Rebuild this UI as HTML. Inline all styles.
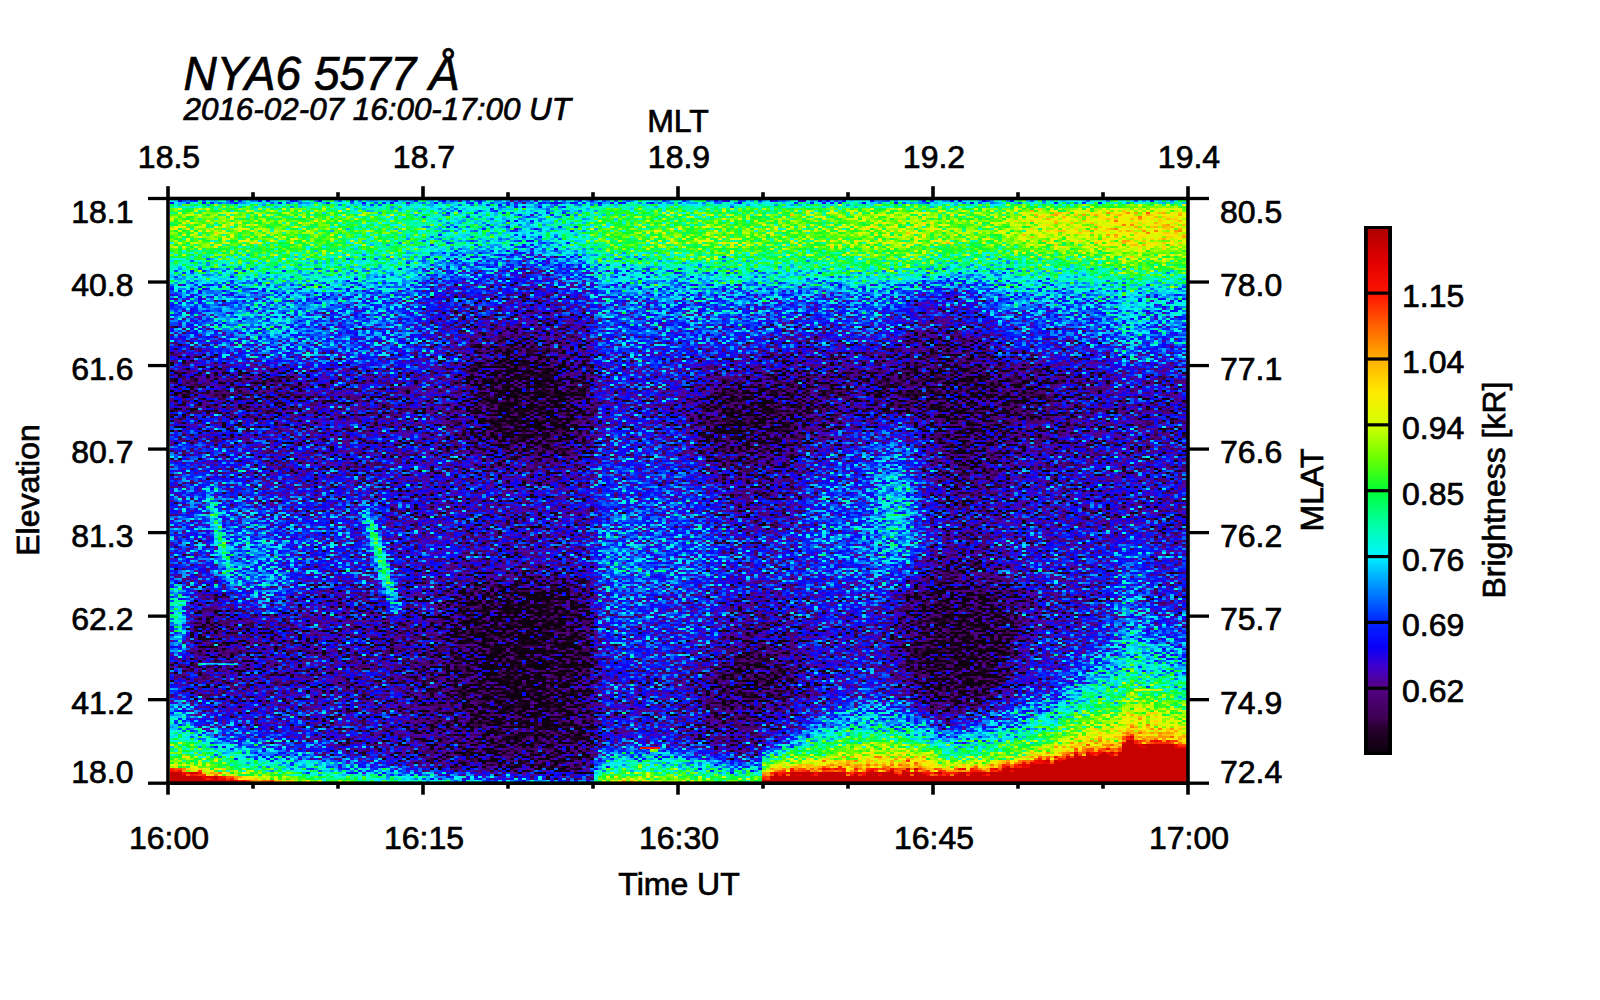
<!DOCTYPE html>
<html><head><meta charset="utf-8"><title>NYA6 5577 keogram</title>
<style>
html,body{margin:0;padding:0;background:#fff;}
body{width:1600px;height:1000px;overflow:hidden;}
svg{display:block;}
text{font-family:"Liberation Sans", sans-serif;fill:#000;stroke:#000;stroke-width:0.7px;}
.it{font-style:italic;}
</style></head><body>
<svg width="1600" height="1000" viewBox="0 0 1600 1000">
<rect width="1600" height="1000" fill="#fff"/>

<defs>
<filter id="cm" filterUnits="userSpaceOnUse" x="170" y="200" width="1017" height="582" color-interpolation-filters="sRGB">
<feTurbulence type="fractalNoise" baseFrequency="0.37 0.43" numOctaves="1" seed="7" result="n"/>
<feColorMatrix in="n" type="matrix" values="1 0 0 0 0  1 0 0 0 0  1 0 0 0 0  0 0 0 0 1" result="ng"/>
<feFlood x="170" y="200" width="1" height="1" flood-color="#000" result="d"/>
<feOffset in="d" dx="0" dy="0" x="170" y="200" width="4" height="2" result="c"/>
<feTile in="c" result="mask"/>
<feComposite in="ng" in2="mask" operator="in" result="sp"/>
<feConvolveMatrix in="sp" order="4 2" kernelMatrix="1 1 1 1 1 1 1 1" divisor="1" targetX="3" targetY="1" edgeMode="none" preserveAlpha="false" result="pix"/>
<feComposite in="SourceGraphic" in2="pix" operator="arithmetic" k1="-0.6564" k2="1.3282" k3="0.7598" k4="-0.3799" result="sum"/>
<feComponentTransfer in="sum">
<feFuncR type="table" tableValues="0.059 0.059 0.059 0.059 0.059 0.059 0.059 0.059 0.059 0.059 0.059 0.059 0.059 0.059 0.059 0.059 0.078 0.098 0.118 0.137 0.181 0.224 0.247 0.263 0.278 0.294 0.31 0.325 0.322 0.3 0.277 0.255 0.201 0.147 0.093 0.039 0.031 0.024 0.016 0.008 0 0 0 0 0 0 0 0 0 0 0 0 0 0 0 0 0 0 0 0 0 0 0 0 0 0 0.069 0.138 0.207 0.276 0.345 0.414 0.478 0.541 0.604 0.667 0.729 0.792 0.838 0.866 0.894 0.922 0.951 0.979 1 1 1 1 1 1 1 1 1 1 1 1 1 1 1 1 1 1 1 0.991 0.972 0.953 0.934 0.915 0.896 0.875 0.843 0.812 0.784 0.784 0.784 0.784 0.784 0.784 0.784 0.784 0.784 0.784 0.784 0.784 0.784 0.784 0.784 0.784 0.784 0.784 0.784 0.784 0.784 0.784 0.784 0.784 0.784 0.784 0.784 0.784 0.784"/>
<feFuncG type="table" tableValues="0 0 0 0 0 0 0 0 0 0 0 0 0 0 0 0 0 0 0 0 0 0 0 0 0 0 0 0 0 0 0 0 0 0 0 0 0.031 0.063 0.094 0.125 0.157 0.22 0.282 0.345 0.408 0.471 0.533 0.598 0.664 0.73 0.796 0.862 0.928 0.964 0.97 0.976 0.983 0.989 0.995 1 1 1 1 1 1 1 1 1 1 1 1 1 1 1 1 1 1 1 0.994 0.981 0.969 0.956 0.944 0.931 0.912 0.875 0.837 0.799 0.762 0.724 0.686 0.639 0.592 0.545 0.498 0.451 0.404 0.355 0.304 0.254 0.204 0.154 0.104 0.072 0.06 0.047 0.035 0.022 0.009 0 0 0 0 0 0 0 0 0 0 0 0 0 0 0 0 0 0 0 0 0 0 0 0 0 0 0 0 0 0 0 0"/>
<feFuncB type="table" tableValues="0.059 0.059 0.059 0.059 0.059 0.059 0.059 0.059 0.059 0.059 0.059 0.059 0.059 0.059 0.059 0.059 0.083 0.108 0.132 0.157 0.227 0.296 0.34 0.374 0.409 0.443 0.478 0.512 0.566 0.639 0.711 0.784 0.833 0.882 0.931 0.98 0.984 0.988 0.992 0.996 1 1 1 1 1 1 1 1 1 1 1 1 1 0.97 0.911 0.851 0.791 0.732 0.672 0.61 0.541 0.472 0.403 0.334 0.265 0.196 0.165 0.133 0.102 0.071 0.039 0.008 0 0 0 0 0 0 0 0 0 0 0 0 0 0 0 0 0 0 0 0 0 0 0 0 0 0 0 0 0 0 0 0 0 0 0 0 0 0 0 0 0 0 0 0 0 0 0 0 0 0 0 0 0 0 0 0 0 0 0 0 0 0 0 0 0 0 0 0 0"/>
<feFuncA type="linear" slope="0" intercept="1"/>
</feComponentTransfer>
</filter>
</defs>
<g filter="url(#cm)" shape-rendering="crispEdges" fill="none" stroke-width="4">
<rect x="170" y="200" width="1017" height="582" fill="#444" stroke="none"/>
<path stroke="rgb(27,27,27)" d="M522 370h8M510 374h32M502 378h44M502 382h48M498 386h56M498 390h56M498 394h60M498 398h60M498 402h60M498 406h60M498 410h60M502 414h56M502 418h52M506 422h48M510 426h40M514 430h28M514 602h28M506 606h44M498 610h56M494 614h64M486 618h76M482 622h80M954 622h20M482 626h84M950 626h28M478 630h88M946 630h36M478 634h88M946 634h36M478 638h88M946 638h36M478 642h92M942 642h40M478 646h92M942 646h40M482 650h88M942 650h40M482 654h88M946 654h36M482 658h88M946 658h32M482 662h88M950 662h28M482 666h88M958 666h12M482 670h88M482 674h88M486 678h80M486 682h80M486 686h80M490 690h76M490 694h72M494 698h68M498 702h60M498 706h56M502 710h52M510 714h36M518 718h20"/>
<path stroke="rgb(31,31,31)" d="M506 362h36M498 366h52M490 370h32M530 370h24M486 374h24M542 374h16M486 378h16M546 378h16M486 382h16M550 382h16M486 386h12M554 386h12M486 390h12M554 390h16M486 394h12M558 394h12M486 398h12M558 398h12M486 402h12M558 402h16M490 406h8M558 406h16M730 406h40M490 410h8M558 410h16M726 410h48M490 414h12M558 414h12M726 414h48M490 418h12M554 418h16M726 418h44M494 422h12M554 422h16M730 422h36M494 426h16M550 426h16M734 426h28M498 430h16M542 430h20M498 434h60M506 438h44M518 442h20M506 594h40M494 598h64M950 598h28M486 602h28M542 602h20M942 602h44M482 606h24M550 606h16M934 606h56M474 610h24M554 610h16M934 610h60M470 614h24M558 614h12M930 614h68M466 618h20M562 618h12M926 618h72M466 622h16M562 622h12M926 622h28M974 622h24M462 626h20M566 626h12M926 626h24M978 626h24M462 630h16M566 630h12M922 630h24M982 630h20M462 634h16M566 634h12M922 634h24M982 634h20M466 638h12M566 638h16M922 638h24M982 638h16M466 642h12M570 642h12M922 642h20M982 642h16M466 646h12M570 646h12M922 646h20M982 646h16M470 650h12M570 650h12M922 650h20M982 650h16M470 654h12M570 654h12M922 654h24M982 654h16M470 658h12M570 658h12M926 658h20M978 658h16M470 662h12M570 662h12M926 662h24M978 662h16M470 666h12M570 666h12M926 666h32M970 666h24M470 670h12M570 670h12M930 670h60M470 674h12M570 674h12M934 674h56M474 678h12M566 678h16M934 678h56M474 682h12M566 682h16M938 682h48M474 686h12M566 686h16M942 686h40M474 690h16M566 690h16M954 690h20M478 694h12M562 694h16M478 698h16M562 698h16M478 702h20M558 702h20M482 706h16M554 706h24M482 710h20M554 710h24M486 714h24M546 714h32M486 718h32M538 718h36M490 722h80M494 726h72M502 730h56M510 734h36"/>
<path stroke="rgb(35,35,35)" d="M506 354h32M494 358h56M490 362h16M542 362h12M486 366h12M550 366h12M482 370h8M554 370h12M478 374h8M558 374h12M478 378h8M562 378h12M478 382h8M566 382h12M478 386h8M566 386h12M478 390h8M570 390h12M478 394h8M570 394h12M734 394h48M478 398h8M570 398h12M718 398h76M482 402h4M574 402h8M714 402h84M482 406h8M574 406h8M710 406h20M770 406h28M482 410h8M574 410h8M710 410h16M774 410h24M482 414h8M570 414h12M710 414h16M774 414h24M482 418h8M570 418h12M710 418h16M770 418h24M486 422h8M570 422h8M714 422h16M766 422h28M486 426h8M566 426h12M714 426h20M762 426h28M486 430h12M562 430h12M714 430h76M490 434h8M558 434h12M718 434h68M494 438h12M550 438h16M722 438h56M502 442h16M538 442h20M510 446h36M502 590h52M942 590h40M490 594h16M546 594h16M934 594h56M478 598h16M558 598h12M926 598h24M978 598h20M470 602h16M562 602h12M922 602h20M986 602h16M466 606h16M566 606h8M922 606h12M990 606h16M462 610h12M570 610h8M922 610h12M994 610h12M458 614h12M570 614h12M918 614h12M998 614h8M458 618h8M574 618h8M918 618h8M998 618h8M454 622h12M574 622h12M918 622h8M998 622h12M454 626h8M578 626h8M914 626h12M1002 626h8M454 630h8M578 630h8M914 630h8M1002 630h8M454 634h8M578 634h8M914 634h8M1002 634h4M454 638h12M582 638h8M914 638h8M998 638h8M458 642h8M582 642h8M914 642h8M998 642h8M458 646h8M582 646h8M914 646h8M998 646h8M458 650h12M582 650h8M914 650h8M998 650h4M462 654h8M582 654h8M914 654h8M998 654h4M462 658h8M582 658h8M914 658h12M994 658h8M462 662h8M582 662h8M918 662h8M994 662h8M462 666h8M582 666h8M742 666h20M918 666h8M994 666h8M462 670h8M582 670h8M738 670h28M918 670h12M990 670h8M462 674h8M582 674h8M734 674h32M922 674h12M990 674h8M462 678h12M582 678h8M730 678h40M922 678h12M990 678h8M466 682h8M582 682h8M730 682h40M926 682h12M986 682h8M466 686h8M582 686h8M726 686h44M926 686h16M982 686h12M466 690h8M582 690h8M726 690h40M930 690h24M974 690h16M466 694h12M578 694h12M730 694h32M934 694h48M466 698h12M578 698h12M938 698h32M470 702h8M578 702h12M470 706h12M578 706h12M470 710h12M578 710h12M474 714h12M578 714h12M474 718h12M574 718h16M478 722h12M570 722h20M478 726h16M566 726h24M482 730h20M558 730h28M482 734h28M546 734h40M486 738h92M494 742h76M502 746h52M522 750h12"/>
<path stroke="rgb(38,38,38)" d="M510 346h28M498 350h48M490 354h16M538 354h16M482 358h12M550 358h12M482 362h8M554 362h12M478 366h8M562 366h12M474 370h8M566 370h12M910 370h72M474 374h4M570 374h16M902 374h96M474 378h4M574 378h12M894 378h128M470 382h8M578 382h12M890 382h140M470 386h8M578 386h12M742 386h52M890 386h140M474 390h4M582 390h8M722 390h84M894 390h140M474 394h4M582 394h8M714 394h20M782 394h28M894 394h140M474 398h4M582 398h8M710 398h8M794 398h24M894 398h140M474 402h8M582 402h8M706 402h8M798 402h24M898 402h136M474 406h8M582 406h8M702 406h8M798 406h24M910 406h124M474 410h8M582 410h8M702 410h8M798 410h20M930 410h100M474 414h8M582 414h8M702 414h8M798 414h16M938 414h80M478 418h4M582 418h8M706 418h4M794 418h16M946 418h56M478 422h8M578 422h12M706 422h8M794 422h12M950 422h44M478 426h8M578 426h8M706 426h8M790 426h12M950 426h40M478 430h8M574 430h12M706 430h8M790 430h12M954 430h32M482 434h8M570 434h16M710 434h8M786 434h12M958 434h24M486 438h8M566 438h12M710 438h12M778 438h16M966 438h8M490 442h12M558 442h16M714 442h72M494 446h16M546 446h16M722 446h56M506 450h44M742 450h8M522 582h12M942 582h40M498 586h56M934 586h56M482 590h20M554 590h12M926 590h16M982 590h16M470 594h20M562 594h12M922 594h12M990 594h12M462 598h16M570 598h8M918 598h8M998 598h12M458 602h12M574 602h8M918 602h4M1002 602h8M454 606h12M574 606h12M914 606h8M1006 606h8M454 610h8M578 610h8M914 610h8M1006 610h8M450 614h8M582 614h8M914 614h4M1006 614h8M450 618h8M582 618h8M910 618h8M1006 618h8M446 622h8M586 622h4M910 622h8M1010 622h4M446 626h8M586 626h4M910 626h4M1010 626h4M210 630h8M446 630h8M586 630h4M910 630h4M1010 630h4M446 634h8M586 634h4M910 634h4M1006 634h8M446 638h8M910 638h4M1006 638h4M446 642h12M910 642h4M1006 642h4M450 646h8M910 646h4M1006 646h4M450 650h8M910 650h4M1002 650h4M450 654h12M746 654h16M910 654h4M1002 654h4M450 658h12M738 658h32M910 658h4M1002 658h4M450 662h12M734 662h40M910 662h8M1002 662h4M450 666h12M730 666h12M762 666h16M910 666h8M1002 666h4M450 670h12M726 670h12M766 670h12M914 670h4M998 670h8M454 674h8M722 674h12M766 674h12M914 674h8M998 674h4M454 678h8M722 678h8M770 678h12M914 678h8M998 678h4M454 682h12M718 682h12M770 682h8M918 682h8M994 682h8M454 686h12M718 686h8M770 686h8M918 686h8M994 686h4M454 690h12M714 690h12M766 690h12M922 690h8M990 690h4M454 694h12M714 694h16M762 694h12M922 694h12M982 694h8M458 698h8M718 698h52M930 698h8M970 698h12M458 702h12M722 702h40M934 702h36M462 706h8M590 706h4M730 706h24M938 706h16M462 710h8M590 710h4M462 714h12M590 714h4M466 718h8M590 718h4M466 722h12M466 726h12M470 730h12M586 730h4M470 734h12M586 734h4M474 738h12M578 738h12M474 742h20M570 742h20M478 746h24M554 746h36M478 750h44M534 750h56M482 754h104M486 758h100M490 762h88M510 766h44"/>
<path stroke="rgb(42,42,42)" d="M514 338h24M498 342h48M490 346h20M538 346h16M482 350h16M546 350h12M478 354h12M554 354h12M922 354h44M478 358h4M562 358h12M910 358h72M474 362h8M566 362h20M902 362h84M470 366h8M574 366h16M894 366h104M470 370h4M578 370h12M890 370h20M982 370h28M470 374h4M586 374h4M882 374h20M998 374h32M466 378h8M586 378h4M758 378h52M874 378h20M1022 378h20M466 382h4M726 382h100M874 382h16M1030 382h16M466 386h4M714 386h28M794 386h40M874 386h16M1030 386h16M466 390h8M590 390h4M710 390h12M806 390h32M874 390h20M1034 390h12M466 394h8M590 394h4M706 394h8M810 394h32M874 394h20M1034 394h12M466 398h8M590 398h4M702 398h8M818 398h24M878 398h16M1034 398h12M466 402h8M590 402h4M698 402h8M822 402h24M878 402h20M1034 402h12M466 406h8M590 406h4M698 406h4M822 406h20M886 406h24M1034 406h12M466 410h8M590 410h4M698 410h4M818 410h20M902 410h28M1030 410h16M466 414h8M590 414h4M698 414h4M814 414h16M922 414h16M1018 414h28M470 418h8M590 418h4M698 418h8M810 418h12M930 418h16M1002 418h40M470 422h8M698 422h8M806 422h12M934 422h16M994 422h44M470 426h8M586 426h4M702 426h4M802 426h12M938 426h12M990 426h36M470 430h8M586 430h4M702 430h4M802 430h8M942 430h12M986 430h28M470 434h12M586 434h4M702 434h8M798 434h8M942 434h16M982 434h24M474 438h12M578 438h12M706 438h4M794 438h8M942 438h24M974 438h28M478 442h12M574 442h12M706 442h8M786 442h12M946 442h56M482 446h12M562 446h20M710 446h12M778 446h16M946 446h52M490 450h16M550 450h20M714 450h28M750 450h36M946 450h52M502 454h52M722 454h56M946 454h48M734 458h28M950 458h44M950 462h40M954 466h28M950 570h20M942 574h40M518 578h20M934 578h56M494 582h28M534 582h24M930 582h12M982 582h12M478 586h20M554 586h16M926 586h8M990 586h12M466 590h16M566 590h12M922 590h4M998 590h8M458 594h12M574 594h12M918 594h4M1002 594h8M454 598h8M578 598h8M914 598h4M1010 598h4M450 602h8M582 602h8M910 602h8M1010 602h8M446 606h8M586 606h4M910 606h4M1014 606h4M446 610h8M586 610h4M910 610h4M1014 610h4M442 614h8M906 614h8M1014 614h4M442 618h8M906 618h4M1014 618h4M202 622h24M438 622h8M906 622h4M1014 622h8M198 626h36M438 626h8M590 626h4M906 626h4M1014 626h8M198 630h12M218 630h20M438 630h8M590 630h4M906 630h4M1014 630h4M198 634h40M438 634h8M590 634h4M906 634h4M1014 634h4M198 638h36M438 638h8M590 638h4M902 638h8M1010 638h8M202 642h28M434 642h12M590 642h4M902 642h8M1010 642h4M206 646h20M434 646h16M590 646h4M742 646h28M902 646h8M1010 646h4M434 650h16M590 650h4M738 650h40M902 650h8M1006 650h8M434 654h16M590 654h4M734 654h12M762 654h20M906 654h4M1006 654h4M434 658h16M590 658h4M730 658h8M770 658h16M906 658h4M1006 658h4M430 662h20M590 662h4M726 662h8M774 662h12M906 662h4M1006 662h4M430 666h20M590 666h4M722 666h8M778 666h8M906 666h4M1006 666h4M430 670h20M590 670h4M718 670h8M778 670h12M906 670h8M1006 670h4M430 674h24M590 674h4M718 674h4M778 674h12M910 674h4M1002 674h4M426 678h28M590 678h4M714 678h8M782 678h8M910 678h4M1002 678h4M426 682h28M590 682h4M710 682h8M778 682h12M910 682h8M1002 682h4M422 686h32M590 686h4M710 686h8M778 686h8M914 686h4M998 686h4M422 690h32M590 690h4M710 690h4M778 690h8M914 690h8M994 690h4M422 694h32M590 694h4M706 694h8M774 694h8M918 694h4M990 694h4M426 698h32M590 698h4M710 698h8M770 698h8M922 698h8M982 698h8M430 702h28M590 702h4M710 702h12M762 702h12M930 702h4M970 702h8M442 706h20M714 706h16M754 706h12M934 706h4M954 706h12M446 710h16M718 710h44M938 710h12M450 714h12M722 714h32M454 718h12M730 718h16M454 722h12M590 722h4M454 726h12M590 726h4M454 730h16M590 730h4M458 734h12M590 734h4M458 738h16M590 738h4M458 742h16M590 742h4M458 746h20M590 746h4M462 750h16M462 754h20M586 754h4M462 758h24M586 758h4M466 762h24M578 762h12M478 766h32M554 766h36M554 770h32"/>
<path stroke="rgb(46,46,46)" d="M514 330h28M502 334h48M490 338h24M538 338h16M482 342h16M546 342h16M926 342h40M478 346h12M554 346h16M914 346h64M474 350h8M558 350h24M906 350h76M474 354h4M566 354h20M898 354h24M966 354h24M470 358h8M574 358h16M894 358h16M982 358h12M470 362h4M586 362h4M890 362h12M986 362h16M466 366h4M882 366h12M998 366h16M466 370h4M590 370h4M770 370h44M874 370h16M1010 370h24M462 374h8M590 374h4M750 374h132M1030 374h16M170 378h48M462 378h4M590 378h4M718 378h40M810 378h64M1042 378h16M170 382h108M462 382h4M590 382h4M710 382h16M826 382h48M1046 382h16M170 386h112M458 386h8M590 386h4M706 386h8M834 386h40M1046 386h12M170 390h112M458 390h8M702 390h8M838 390h36M1046 390h12M170 394h108M458 394h8M698 394h8M842 394h32M1046 394h12M170 398h104M458 398h8M694 398h8M842 398h36M1046 398h12M458 402h8M694 402h4M846 402h32M1046 402h12M458 406h8M690 406h8M842 406h44M1046 406h12M458 410h8M690 410h8M838 410h16M878 410h24M1046 410h12M458 414h8M690 414h8M830 414h16M902 414h20M1046 414h12M458 418h12M694 418h4M822 418h16M918 418h12M1042 418h16M458 422h12M590 422h4M694 422h4M818 422h12M926 422h8M1038 422h20M462 426h8M590 426h4M694 426h8M814 426h12M930 426h8M1026 426h36M462 430h8M590 430h4M694 430h8M810 430h8M934 430h8M1014 430h48M462 434h8M590 434h4M698 434h4M806 434h8M934 434h8M1006 434h52M466 438h8M590 438h4M698 438h8M802 438h8M938 438h4M1002 438h28M466 442h12M586 442h4M702 442h4M798 442h8M938 442h8M1002 442h16M470 446h12M582 446h8M706 446h4M794 446h8M938 446h8M998 446h16M474 450h16M570 450h20M706 450h8M786 450h12M938 450h8M998 450h12M482 454h20M554 454h28M710 454h12M778 454h16M938 454h8M994 454h16M494 458h68M714 458h20M762 458h24M938 458h12M994 458h12M518 462h20M718 462h64M938 462h12M990 462h16M730 466h48M942 466h12M982 466h20M738 470h32M942 470h56M942 474h52M946 478h44M950 482h36M954 486h24M954 558h16M946 562h36M938 566h48M934 570h16M970 570h20M514 574h28M930 574h12M982 574h12M490 578h28M538 578h24M926 578h8M990 578h8M474 582h20M558 582h16M922 582h8M994 582h8M462 586h16M570 586h12M918 586h8M1002 586h8M454 590h12M578 590h8M914 590h8M1006 590h8M446 594h12M586 594h4M910 594h8M1010 594h8M442 598h12M586 598h4M910 598h4M1014 598h8M438 602h12M906 602h4M1018 602h4M438 606h8M906 606h4M1018 606h8M434 610h12M590 610h4M902 610h8M1018 610h8M206 614h16M434 614h8M590 614h4M902 614h4M1018 614h8M198 618h36M430 618h12M590 618h4M902 618h4M1018 618h8M194 622h8M226 622h16M426 622h12M590 622h4M902 622h4M1022 622h4M194 626h4M234 626h16M422 626h16M902 626h4M1022 626h4M194 630h4M238 630h16M422 630h16M898 630h8M1018 630h8M194 634h4M238 634h16M418 634h20M750 634h12M898 634h8M1018 634h4M194 638h4M234 638h20M418 638h20M738 638h40M898 638h4M1018 638h4M194 642h8M230 642h20M418 642h16M734 642h48M898 642h4M1014 642h4M194 646h12M226 646h20M418 646h16M730 646h12M770 646h16M898 646h4M1014 646h4M198 650h44M418 650h16M726 650h12M778 650h12M898 650h4M1014 650h4M202 654h32M418 654h16M726 654h8M782 654h8M898 654h8M1010 654h4M206 658h24M414 658h20M722 658h8M786 658h8M902 658h4M1010 658h4M214 662h8M414 662h16M718 662h8M786 662h8M902 662h4M1010 662h4M414 666h16M714 666h8M786 666h8M902 666h4M1010 666h4M410 670h20M714 670h4M790 670h4M902 670h4M1010 670h4M410 674h20M710 674h8M790 674h8M906 674h4M1006 674h4M406 678h20M706 678h8M790 678h8M906 678h4M1006 678h4M406 682h20M706 682h4M790 682h8M906 682h4M1006 682h4M406 686h16M702 686h8M786 686h12M910 686h4M1002 686h4M406 690h16M702 690h8M786 690h8M910 690h4M998 690h4M406 694h16M702 694h4M782 694h12M914 694h4M994 694h4M406 698h20M702 698h8M778 698h8M918 698h4M990 698h4M406 702h24M702 702h8M774 702h8M922 702h8M978 702h8M406 706h36M706 706h8M766 706h12M930 706h4M966 706h12M410 710h36M706 710h12M762 710h8M934 710h4M950 710h12M410 714h40M710 714h12M754 714h12M938 714h8M414 718h40M710 718h20M746 718h16M414 722h40M714 722h44M414 726h40M718 726h36M414 730h40M726 730h20M414 734h44M414 738h44M414 742h44M414 746h44M414 750h48M590 750h4M414 754h48M590 754h4M418 758h44M590 758h4M430 762h36M590 762h4M458 766h20M590 766h4M490 770h64M586 770h8"/>
<path stroke="rgb(49,49,49)" d="M526 318h8M514 322h32M506 326h48M494 330h20M542 330h20M934 330h24M482 334h20M550 334h20M922 334h48M478 338h12M554 338h32M914 338h64M474 342h8M562 342h24M906 342h20M966 342h16M470 346h8M570 346h20M898 346h16M978 346h12M470 350h4M582 350h8M894 350h12M982 350h12M466 354h8M586 354h4M890 354h8M990 354h8M466 358h4M590 358h4M882 358h12M994 358h12M462 362h8M590 362h4M778 362h36M878 362h12M1002 362h12M462 366h4M590 366h4M762 366h92M858 366h24M1014 366h20M170 370h36M458 370h8M742 370h28M814 370h60M1034 370h20M170 374h84M458 374h4M714 374h36M1046 374h36M218 378h76M454 378h8M706 378h12M1058 378h36M278 382h20M454 382h8M702 382h8M1062 382h32M282 386h20M450 386h8M698 386h8M1058 386h36M282 390h20M450 390h8M694 390h8M1058 390h32M278 394h28M446 394h12M594 394h4M690 394h8M1058 394h28M274 398h32M442 398h16M594 398h4M690 398h4M1058 398h16M170 402h140M442 402h16M594 402h4M686 402h8M1058 402h12M170 406h144M438 406h20M594 406h4M686 406h4M1058 406h12M170 410h136M438 410h20M594 410h4M686 410h4M854 410h24M1058 410h12M442 414h16M594 414h4M686 414h4M846 414h56M1058 414h16M446 418h12M594 418h4M686 418h8M838 418h16M902 418h16M1058 418h20M446 422h12M686 422h8M830 422h12M918 422h8M1058 422h20M450 426h12M690 426h4M826 426h8M926 426h4M1062 426h20M450 430h12M690 430h4M818 430h12M926 430h8M1062 430h20M454 434h8M690 434h8M814 434h12M930 434h4M1058 434h24M454 438h12M694 438h4M810 438h12M930 438h8M1030 438h48M458 442h8M590 442h4M698 442h4M806 442h8M930 442h8M1018 442h56M458 446h12M590 446h4M698 446h8M802 446h8M930 446h8M1014 446h44M462 450h12M590 450h4M702 450h4M798 450h8M930 450h8M1010 450h16M466 454h16M582 454h8M702 454h8M794 454h8M934 454h4M1010 454h12M470 458h24M562 458h28M706 458h8M786 458h12M934 458h4M1006 458h12M478 462h40M538 462h48M710 462h8M782 462h12M934 462h4M1006 462h8M490 466h76M714 466h16M778 466h12M934 466h8M1002 466h12M510 470h36M718 470h20M770 470h20M934 470h8M998 470h12M726 474h60M934 474h8M994 474h12M730 478h56M938 478h8M990 478h12M734 482h48M938 482h12M986 482h16M738 486h44M942 486h12M978 486h20M738 490h40M942 490h52M742 494h36M942 494h52M746 498h28M946 498h44M758 502h4M946 502h44M950 506h36M950 510h32M958 514h20M962 534h8M958 538h16M954 542h24M950 546h32M946 550h40M942 554h48M938 558h16M970 558h20M934 562h12M982 562h12M518 566h20M930 566h8M986 566h8M498 570h56M926 570h8M990 570h8M482 574h32M542 574h28M926 574h4M994 574h8M466 578h24M562 578h20M922 578h4M998 578h8M454 582h20M574 582h12M918 582h4M1002 582h8M446 586h16M582 586h8M914 586h4M1010 586h8M442 590h12M586 590h4M910 590h4M1014 590h8M434 594h12M906 594h4M1018 594h8M430 598h12M590 598h4M906 598h4M1022 598h8M422 602h16M590 602h4M902 602h4M1022 602h8M414 606h24M590 606h4M902 606h4M1026 606h4M202 610h24M410 610h24M898 610h4M1026 610h4M194 614h12M222 614h12M410 614h24M898 614h4M1026 614h4M194 618h4M234 618h8M406 618h24M898 618h4M1026 618h4M242 622h12M398 622h28M746 622h28M898 622h4M1026 622h4M190 626h4M250 626h24M382 626h40M738 626h44M894 626h8M1026 626h4M190 630h4M254 630h36M378 630h44M734 630h52M894 630h4M1026 630h4M190 634h4M254 634h40M378 634h40M730 634h20M762 634h28M894 634h4M1022 634h8M190 638h4M254 638h40M378 638h40M730 638h8M778 638h16M894 638h4M1022 638h4M250 642h44M378 642h40M726 642h8M782 642h12M894 642h4M1018 642h8M246 646h40M382 646h36M722 646h8M786 646h12M894 646h4M1018 646h4M194 650h4M242 650h36M386 650h32M722 650h4M790 650h8M894 650h4M1018 650h4M194 654h8M234 654h32M390 654h28M594 654h4M718 654h8M790 654h8M894 654h4M1014 654h4M194 658h12M230 658h28M390 658h24M594 658h4M714 658h8M794 658h8M894 658h8M1014 658h4M190 662h24M222 662h32M390 662h24M594 662h4M714 662h4M794 662h8M898 662h4M1014 662h4M194 666h56M390 666h24M594 666h4M710 666h4M794 666h8M898 666h4M1014 666h4M194 670h52M390 670h20M594 670h4M706 670h8M794 670h8M898 670h4M1014 670h4M198 674h48M390 674h20M594 674h4M702 674h8M798 674h8M898 674h8M1010 674h4M198 678h44M390 678h16M594 678h4M702 678h4M798 678h8M902 678h4M1010 678h4M202 682h36M394 682h12M594 682h4M698 682h8M798 682h8M902 682h4M1010 682h4M202 686h32M394 686h12M594 686h4M698 686h4M798 686h8M902 686h8M1006 686h4M394 690h12M594 690h4M694 690h8M794 690h12M906 690h4M1002 690h4M394 694h12M594 694h4M694 694h8M794 694h12M910 694h4M998 694h4M394 698h12M594 698h4M694 698h8M786 698h12M914 698h4M994 698h4M394 702h12M594 702h4M698 702h4M782 702h12M918 702h4M986 702h8M394 706h12M594 706h4M698 706h8M778 706h8M926 706h4M978 706h8M394 710h16M594 710h4M698 710h8M770 710h12M930 710h4M962 710h12M394 714h16M594 714h4M702 714h8M766 714h8M946 714h12M398 718h16M594 718h4M702 718h8M762 718h8M398 722h16M594 722h4M702 722h12M758 722h8M398 726h16M594 726h4M706 726h12M754 726h12M398 730h16M594 730h4M706 730h20M746 730h16M398 734h16M594 734h4M710 734h52M398 738h16M594 738h4M714 738h44M398 742h16M718 742h36M398 746h16M730 746h16M398 750h16M398 754h16M402 758h16M414 762h16M442 766h16M478 770h12M574 774h16"/>
<path stroke="rgb(53,53,53)" d="M526 306h8M514 310h28M510 314h40M502 318h24M534 318h24M494 322h20M546 322h24M926 322h40M482 326h24M554 326h32M918 326h56M470 330h24M562 330h28M914 330h20M958 330h20M466 334h16M570 334h20M910 334h12M970 334h12M466 338h12M586 338h4M902 338h12M978 338h8M462 342h12M586 342h4M898 342h8M982 342h12M462 346h8M590 346h4M890 346h8M990 346h8M462 350h8M590 350h4M886 350h8M994 350h8M458 354h8M590 354h4M786 354h28M878 354h12M998 354h8M458 358h8M770 358h76M870 358h12M1006 358h8M170 362h24M454 362h8M758 362h20M814 362h64M1014 362h24M170 366h44M450 366h12M734 366h28M854 366h4M1034 366h36M206 370h32M450 370h8M710 370h32M1054 370h40M254 374h44M446 374h12M594 374h4M702 374h12M1082 374h20M294 378h16M438 378h16M594 378h4M698 378h8M1094 378h16M298 382h20M430 382h24M594 382h4M694 382h8M1094 382h16M302 386h24M414 386h36M594 386h4M690 386h8M1094 386h20M302 390h148M594 390h4M686 390h8M1090 390h24M306 394h140M682 394h8M1086 394h32M1154 394h36M306 398h136M678 398h12M1074 398h48M1142 398h48M310 402h132M674 402h12M1070 402h56M1134 402h56M314 406h124M670 406h16M1070 406h120M306 410h132M674 410h12M1070 410h120M170 414h272M674 414h12M1074 414h116M170 418h276M678 418h8M854 418h48M1078 418h112M286 422h160M594 422h4M678 422h8M842 422h24M906 422h12M1078 422h112M310 426h140M594 426h4M682 426h8M834 426h16M918 426h8M1082 426h108M322 430h128M594 430h4M682 430h8M830 430h12M922 430h4M1082 430h36M1142 430h48M422 434h32M594 434h4M686 434h4M826 434h8M926 434h4M1082 434h28M434 438h20M594 438h4M686 438h8M822 438h8M926 438h4M1078 438h24M438 442h20M690 442h8M814 442h12M926 442h4M1074 442h24M442 446h16M694 446h4M810 446h12M926 446h4M1058 446h36M442 450h20M694 450h8M806 450h8M926 450h4M1026 450h60M446 454h20M590 454h4M698 454h4M802 454h8M926 454h8M1022 454h56M450 458h20M590 458h4M698 458h8M798 458h8M926 458h8M1018 458h20M454 462h24M586 462h4M702 462h8M794 462h8M930 462h4M1014 462h16M458 466h32M566 466h24M706 466h8M790 466h8M930 466h4M1014 466h12M458 470h52M546 470h44M710 470h8M790 470h8M930 470h4M1010 470h12M462 474h128M714 474h12M786 474h8M930 474h4M1006 474h12M470 478h116M718 478h12M786 478h8M930 478h8M1002 478h16M494 482h68M722 482h12M782 482h12M934 482h4M1002 482h12M726 486h12M782 486h8M934 486h8M998 486h12M726 490h12M778 490h12M934 490h8M994 490h12M730 494h12M778 494h12M934 494h8M994 494h12M730 498h16M774 498h12M938 498h8M990 498h16M734 502h24M762 502h24M938 502h8M990 502h16M734 506h52M938 506h12M986 506h20M734 510h48M938 510h12M982 510h24M1158 510h32M738 514h44M938 514h20M978 514h28M1150 514h40M742 518h36M942 518h64M1154 518h36M942 522h60M942 526h60M942 530h56M942 534h20M970 534h28M938 538h20M974 538h24M938 542h16M978 542h16M938 546h12M982 546h16M934 550h12M986 550h12M518 554h20M934 554h8M990 554h8M498 558h60M930 558h8M990 558h12M486 562h84M926 562h8M994 562h8M474 566h44M538 566h40M926 566h4M994 566h8M466 570h32M554 570h32M922 570h4M998 570h8M458 574h24M570 574h16M918 574h8M1002 574h8M450 578h16M582 578h8M918 578h4M1006 578h8M442 582h12M586 582h4M914 582h4M1010 582h12M430 586h16M590 586h4M910 586h4M1018 586h8M414 590h28M590 590h4M906 590h4M1022 590h8M406 594h28M590 594h4M902 594h4M1026 594h8M406 598h24M902 598h4M1030 598h8M206 602h12M338 602h40M406 602h16M750 602h20M898 602h4M1030 602h12M198 606h32M314 606h68M406 606h8M742 606h40M898 606h4M1030 606h12M194 610h8M226 610h12M310 610h76M406 610h4M738 610h48M894 610h4M1030 610h12M234 614h12M302 614h84M406 614h4M734 614h56M894 614h4M1030 614h12M190 618h4M242 618h16M294 618h96M402 618h4M730 618h64M894 618h4M1030 618h12M190 622h4M254 622h144M594 622h4M730 622h16M774 622h20M890 622h8M1030 622h12M274 626h108M594 626h4M726 626h12M782 626h16M890 626h4M1030 626h12M290 630h88M594 630h4M726 630h8M786 630h12M890 630h4M1030 630h8M294 634h84M594 634h4M722 634h8M790 634h12M890 634h4M1030 634h8M294 638h84M594 638h4M722 638h8M794 638h8M890 638h4M1026 638h8M190 642h4M294 642h84M594 642h4M718 642h8M794 642h8M890 642h4M1026 642h4M190 646h4M286 646h96M594 646h4M718 646h4M798 646h8M890 646h4M1022 646h8M190 650h4M278 650h108M594 650h4M714 650h8M798 650h8M890 650h4M1022 650h4M190 654h4M266 654h124M714 654h4M798 654h8M890 654h4M1018 654h8M190 658h4M258 658h132M710 658h4M802 658h4M890 658h4M1018 658h4M174 662h16M254 662h136M706 662h8M802 662h8M890 662h8M1018 662h4M178 666h16M250 666h140M702 666h8M802 666h8M894 666h4M1018 666h4M178 670h16M246 670h144M698 670h8M802 670h12M894 670h4M1018 670h4M182 674h16M246 674h144M698 674h4M806 674h8M894 674h4M1014 674h8M186 678h12M242 678h148M694 678h8M806 678h12M894 678h8M1014 678h4M186 682h16M238 682h156M690 682h8M806 682h12M898 682h4M1014 682h4M190 686h12M234 686h160M690 686h8M806 686h12M898 686h4M1010 686h4M190 690h204M690 690h4M806 690h12M902 690h4M1006 690h8M194 694h68M358 694h36M690 694h4M806 694h12M906 694h4M1002 694h8M202 698h44M366 698h28M690 698h4M798 698h16M910 698h4M998 698h4M366 702h28M690 702h8M794 702h12M914 702h4M994 702h4M366 706h28M690 706h8M786 706h12M922 706h4M986 706h4M366 710h28M690 710h8M782 710h8M926 710h4M974 710h8M366 714h28M694 714h8M774 714h12M934 714h4M958 714h8M366 718h32M694 718h8M770 718h8M938 718h12M366 722h32M694 722h8M766 722h12M366 726h32M694 726h12M766 726h8M366 730h32M698 730h8M762 730h12M366 734h32M698 734h12M762 734h8M366 738h32M702 738h12M758 738h8M366 742h32M594 742h4M706 742h12M754 742h8M370 746h28M594 746h4M714 746h16M746 746h16M374 750h24M726 750h36M382 754h16M390 758h12M406 762h8M422 766h20M462 770h16M522 774h52M590 774h4"/>
<path stroke="rgb(56,56,56)" d="M526 294h8M514 298h28M510 302h40M502 306h24M534 306h24M498 310h16M542 310h24M486 314h24M550 314h28M926 314h40M454 318h48M558 318h28M918 318h56M446 322h48M570 322h20M914 322h12M966 322h12M446 326h36M586 326h4M910 326h8M974 326h8M446 330h24M590 330h4M906 330h8M978 330h8M446 334h20M590 334h4M898 334h12M982 334h8M450 338h16M590 338h4M894 338h8M986 338h8M450 342h12M590 342h4M886 342h12M994 342h4M450 346h12M786 346h36M882 346h8M998 346h4M450 350h12M774 350h72M874 350h12M1002 350h8M450 354h8M766 354h20M814 354h64M1006 354h12M170 358h36M446 358h12M594 358h4M754 358h16M846 358h24M1014 358h28M194 362h20M442 362h12M594 362h4M722 362h36M1038 362h48M214 366h16M434 366h16M594 366h4M706 366h28M1070 366h32M238 370h60M426 370h24M594 370h4M698 370h12M1094 370h16M298 374h20M410 374h36M690 374h12M1102 374h12M310 378h128M686 378h12M1110 378h8M1146 378h44M318 382h112M682 382h12M1110 382h12M1138 382h52M326 386h88M678 386h12M1114 386h76M598 390h4M670 390h16M1114 390h76M598 394h4M662 394h20M1118 394h36M598 398h4M650 398h28M1122 398h20M598 402h4M634 402h40M1126 402h8M598 406h8M626 406h44M598 410h8M630 410h44M598 414h4M638 414h36M598 418h4M650 418h28M170 422h116M598 422h4M658 422h20M866 422h40M170 426h140M598 426h4M666 426h16M850 426h24M906 426h12M274 430h48M598 430h4M670 430h12M842 430h16M914 430h8M1118 430h24M290 434h132M674 434h12M834 434h16M918 434h8M1110 434h80M290 438h144M678 438h8M830 438h12M922 438h4M1102 438h88M286 442h152M594 442h4M682 442h8M826 442h12M922 442h4M1098 442h92M282 446h160M594 446h4M686 446h8M822 446h12M922 446h4M1094 446h96M274 450h168M594 450h4M690 450h4M814 450h12M922 450h4M1086 450h104M270 454h176M690 454h8M810 454h12M922 454h4M1078 454h112M266 458h184M694 458h4M806 458h8M922 458h4M1038 458h152M266 462h188M590 462h4M694 462h8M802 462h8M926 462h4M1030 462h160M270 466h188M590 466h4M698 466h8M798 466h8M926 466h4M1026 466h164M274 470h184M590 470h4M702 470h8M798 470h8M926 470h4M1022 470h168M286 474h176M590 474h4M706 474h8M794 474h8M926 474h4M1018 474h172M386 478h84M586 478h8M710 478h8M794 478h8M926 478h4M1018 478h172M394 482h100M562 482h28M714 482h8M794 482h4M930 482h4M1014 482h104M1146 482h44M398 486h192M718 486h8M790 486h8M930 486h4M1010 486h104M1150 486h40M398 490h192M722 490h4M790 490h8M930 490h4M1006 490h108M1150 490h40M398 494h192M722 494h8M790 494h8M930 494h4M1006 494h112M1146 494h44M394 498h196M722 498h8M786 498h8M930 498h8M1006 498h120M1138 498h52M390 502h200M726 502h8M786 502h8M930 502h8M1006 502h184M390 506h200M726 506h8M786 506h8M934 506h4M1006 506h184M386 510h204M726 510h8M782 510h8M934 510h4M1006 510h152M386 514h204M726 514h12M782 514h8M934 514h4M1006 514h144M386 518h204M730 518h12M778 518h12M934 518h8M1006 518h148M386 522h204M730 522h56M934 522h8M1002 522h124M1138 522h52M390 526h196M734 526h48M934 526h8M1002 526h116M1146 526h44M402 530h184M742 530h36M934 530h8M998 530h20M1098 530h8M1154 530h36M446 534h140M934 534h8M998 534h16M454 538h132M934 538h4M998 538h12M462 542h124M934 542h4M994 542h16M462 546h124M930 546h8M998 546h12M458 550h128M930 550h4M998 550h12M454 554h64M538 554h48M926 554h8M998 554h12M450 558h48M558 558h32M926 558h4M1002 558h8M446 562h40M570 562h20M922 562h4M1002 562h8M446 566h28M578 566h12M922 566h4M1002 566h12M442 570h24M586 570h4M918 570h4M1006 570h8M434 574h24M586 574h4M1010 574h8M418 578h32M590 578h4M914 578h4M1014 578h12M402 582h40M590 582h4M910 582h4M1022 582h12M402 586h28M906 586h4M1026 586h16M322 590h56M402 590h12M746 590h28M902 590h4M1030 590h24M310 594h68M402 594h4M738 594h48M898 594h4M1034 594h44M198 598h24M306 598h76M402 598h4M594 598h4M730 598h64M894 598h8M1038 598h48M194 602h12M218 602h12M302 602h36M378 602h4M402 602h4M594 602h4M726 602h24M770 602h28M894 602h4M1042 602h44M194 606h4M230 606h8M298 606h16M382 606h4M402 606h4M594 606h4M726 606h16M782 606h16M890 606h8M1042 606h36M190 610h4M238 610h8M294 610h16M402 610h4M594 610h4M726 610h12M786 610h16M890 610h4M1042 610h32M190 614h4M246 614h12M282 614h20M386 614h4M402 614h4M594 614h4M722 614h12M790 614h16M886 614h8M1042 614h28M258 618h36M390 618h4M594 618h4M722 618h8M794 618h12M886 618h8M1042 618h24M722 622h8M794 622h16M882 622h8M1042 622h20M718 626h8M798 626h16M882 626h8M1042 626h16M718 630h8M798 630h16M882 630h8M1038 630h20M718 634h4M802 634h12M882 634h8M1038 634h12M714 638h8M802 638h12M882 638h8M1034 638h12M714 642h4M802 642h12M882 642h8M1030 642h12M710 646h8M806 646h8M882 646h8M1030 646h8M710 650h4M806 650h8M882 650h8M1026 650h8M706 654h8M806 654h12M882 654h8M1026 654h4M186 658h4M702 658h8M806 658h12M882 658h8M1022 658h8M170 662h4M698 662h8M810 662h12M886 662h4M1022 662h8M170 666h8M598 666h4M694 666h8M810 666h12M886 666h8M1022 666h8M170 670h8M598 670h4M690 670h8M814 670h12M886 670h8M1022 670h4M170 674h12M598 674h4M686 674h12M814 674h12M886 674h8M1022 674h4M170 678h16M598 678h4M686 678h8M818 678h12M890 678h4M1018 678h8M174 682h12M598 682h4M682 682h8M818 682h12M890 682h8M1018 682h4M182 686h8M598 686h4M678 686h12M818 686h12M894 686h4M1014 686h8M186 690h4M598 690h4M678 690h12M818 690h12M894 690h8M1014 690h4M190 694h4M262 694h96M598 694h4M678 694h12M818 694h8M902 694h4M1010 694h4M194 698h8M246 698h120M598 698h4M678 698h12M814 698h8M906 698h4M1002 698h8M198 702h168M598 702h4M678 702h12M806 702h12M910 702h4M998 702h4M214 706h152M598 706h4M678 706h12M798 706h16M918 706h4M990 706h4M274 710h92M598 710h4M678 710h12M790 710h16M922 710h4M982 710h8M314 714h52M598 714h4M682 714h12M786 714h12M930 714h4M966 714h12M322 718h44M598 718h4M682 718h12M778 718h12M950 718h12M322 722h44M598 722h4M682 722h12M778 722h8M942 722h4M322 726h44M598 726h4M682 726h12M774 726h8M326 730h40M598 730h4M682 730h16M774 730h8M326 734h40M598 734h4M686 734h12M770 734h8M326 738h40M598 738h4M690 738h12M766 738h8M330 742h36M694 742h12M762 742h4M334 746h36M702 746h12M346 750h28M594 750h4M714 750h12M362 754h20M734 754h28M378 758h12M394 762h12M414 766h8M450 770h12M494 774h28"/>
<path stroke="rgb(60,60,60)" d="M518 286h24M510 290h36M506 294h20M534 294h20M494 298h20M542 298h20M482 302h28M550 302h20M446 306h56M558 306h20M926 306h36M442 310h56M566 310h20M918 310h52M438 314h48M578 314h12M914 314h12M966 314h12M434 318h20M586 318h4M910 318h8M974 318h8M434 322h12M590 322h4M906 322h8M978 322h8M434 326h12M590 326h4M902 326h8M982 326h8M434 330h12M898 330h8M986 330h8M434 334h12M890 334h8M990 334h8M434 338h16M782 338h48M882 338h12M994 338h8M434 342h16M774 342h76M874 342h12M998 342h8M434 346h16M594 346h4M766 346h20M822 346h60M1002 346h8M170 350h28M434 350h16M594 350h4M758 350h16M846 350h28M1010 350h12M170 354h40M434 354h16M594 354h4M750 354h16M1018 354h52M206 358h12M430 358h16M710 358h44M1042 358h52M214 362h16M422 362h20M698 362h24M1086 362h20M230 366h68M414 366h20M690 366h16M1102 366h12M298 370h128M598 370h4M682 370h16M1110 370h8M1146 370h44M318 374h92M598 374h4M674 374h16M1114 374h12M1138 374h52M598 378h4M666 378h20M1118 378h28M598 382h4M646 382h36M1122 382h16M598 386h12M614 386h64M602 390h68M602 394h60M602 398h48M602 402h32M606 406h20M606 410h24M602 414h36M602 418h48M602 422h56M602 426h64M874 426h32M170 430h104M602 430h68M858 430h20M906 430h8M170 434h120M598 434h8M618 434h56M850 434h20M914 434h4M170 438h120M598 438h4M646 438h32M842 438h20M918 438h4M170 442h116M598 442h4M662 442h20M838 442h20M918 442h4M238 446h44M598 446h4M674 446h12M834 446h20M918 446h4M242 450h32M678 450h12M826 450h20M918 450h4M246 454h24M594 454h4M682 454h8M822 454h20M918 454h4M246 458h20M594 458h4M686 458h8M814 458h20M918 458h4M246 462h20M594 462h4M690 462h4M810 462h12M922 462h4M250 466h20M594 466h4M690 466h8M806 466h12M922 466h4M254 470h20M594 470h4M694 470h8M806 470h8M922 470h4M254 474h32M698 474h8M802 474h8M922 474h4M258 478h128M702 478h8M802 478h8M922 478h4M262 482h132M590 482h4M706 482h8M798 482h8M926 482h4M1118 482h28M266 486h132M590 486h4M710 486h8M798 486h8M926 486h4M1114 486h36M270 490h128M590 490h4M714 490h8M798 490h4M926 490h4M1114 490h36M278 494h120M590 494h4M714 494h8M798 494h4M926 494h4M1118 494h28M306 498h88M590 498h4M718 498h4M794 498h8M926 498h4M1126 498h12M354 502h8M374 502h16M590 502h4M718 502h8M794 502h8M926 502h4M374 506h16M590 506h4M718 506h8M794 506h4M930 506h4M378 510h8M590 510h4M718 510h8M790 510h8M930 510h4M378 514h8M590 514h4M718 514h8M790 514h8M930 514h4M378 518h8M590 518h4M722 518h8M790 518h8M930 518h4M382 522h4M590 522h4M722 522h8M786 522h8M930 522h4M1126 522h12M382 526h8M586 526h8M726 526h8M782 526h12M930 526h4M1118 526h28M382 530h20M586 530h8M726 530h16M778 530h12M930 530h4M1018 530h80M1106 530h20M1138 530h16M386 534h60M586 534h4M730 534h56M930 534h4M1014 534h104M1142 534h48M386 538h68M586 538h4M734 538h48M930 538h4M1010 538h104M1150 538h40M386 542h76M586 542h4M742 542h36M926 542h8M1010 542h96M1154 542h36M390 546h72M586 546h4M750 546h16M926 546h4M1010 546h88M1162 546h28M390 550h68M586 550h4M926 550h4M1010 550h60M1178 550h12M390 554h64M586 554h4M922 554h4M1010 554h40M394 558h56M590 558h4M922 558h4M1010 558h40M394 562h52M590 562h4M918 562h4M1010 562h44M394 566h52M590 566h4M918 566h4M1014 566h48M398 570h44M590 570h4M914 570h4M1014 570h60M398 574h36M590 574h4M914 574h4M1018 574h64M330 578h44M398 578h20M754 578h16M910 578h4M1026 578h60M310 582h64M398 582h4M738 582h48M906 582h4M1034 582h60M306 586h72M398 586h4M730 586h64M902 586h4M1042 586h56M198 590h16M302 590h20M378 590h4M398 590h4M594 590h4M726 590h20M774 590h24M898 590h4M1054 590h44M194 594h32M298 594h12M378 594h4M398 594h4M594 594h4M722 594h16M786 594h20M894 594h4M1078 594h24M194 598h4M222 598h12M294 598h12M718 598h12M794 598h16M890 598h4M1086 598h16M190 602h4M230 602h8M290 602h12M382 602h4M718 602h8M798 602h16M886 602h8M1086 602h16M190 606h4M238 606h8M286 606h12M718 606h8M798 606h20M882 606h8M1078 606h24M246 610h12M278 610h16M386 610h4M714 610h12M802 610h24M878 610h12M1074 610h24M258 614h24M714 614h8M806 614h48M870 614h16M1070 614h24M398 618h4M714 618h8M806 618h80M1066 618h24M714 622h8M810 622h72M1062 622h24M710 626h8M814 626h68M1058 626h24M710 630h8M814 630h68M1058 630h20M598 634h4M706 634h12M814 634h68M1050 634h20M598 638h4M706 638h8M814 638h68M1046 638h20M598 642h4M702 642h12M814 642h68M1042 642h20M186 646h4M598 646h4M702 646h8M814 646h68M1038 646h20M186 650h4M598 650h4M698 650h12M814 650h68M1034 650h16M186 654h4M598 654h4M694 654h12M818 654h64M1030 654h16M170 658h4M182 658h4M598 658h4M690 658h12M818 658h64M1030 658h16M598 662h4M686 662h12M822 662h28M866 662h20M1030 662h12M678 666h16M822 666h28M870 666h16M1030 666h12M602 670h4M674 670h16M826 670h20M874 670h12M1026 670h12M602 674h8M666 674h20M826 674h20M874 674h12M1026 674h12M602 678h16M654 678h32M830 678h16M878 678h12M1026 678h8M170 682h4M602 682h80M830 682h16M882 682h8M1022 682h8M170 686h12M602 686h76M830 686h12M882 686h12M1022 686h8M174 690h12M602 690h76M830 690h12M886 690h8M1018 690h8M186 694h4M602 694h76M826 694h8M894 694h8M1014 694h4M190 698h4M602 698h76M822 698h8M898 698h8M1010 698h4M194 702h4M602 702h76M818 702h4M906 702h4M1002 702h8M198 706h16M602 706h76M814 706h4M910 706h8M994 706h8M202 710h72M602 710h76M806 710h8M918 710h4M990 710h4M226 714h88M602 714h80M798 714h12M926 714h4M978 714h8M250 718h72M602 718h80M790 718h12M934 718h4M962 718h8M258 722h64M602 722h80M786 722h12M938 722h4M946 722h8M266 726h56M602 726h80M782 726h12M278 730h48M602 730h80M782 730h8M286 734h40M602 734h84M778 734h8M298 738h28M602 738h12M670 738h20M774 738h4M310 742h20M598 742h8M682 742h12M766 742h4M322 746h12M694 746h8M762 746h4M330 750h16M706 750h8M346 754h16M594 754h4M722 754h12M366 758h12M386 762h8M406 766h8M438 770h12M482 774h12M570 778h24"/>
<path stroke="rgb(64,64,64)" d="M522 274h12M514 278h28M510 282h40M502 286h16M542 286h16M494 290h16M546 290h20M450 294h56M554 294h20M438 298h56M562 298h16M938 298h16M434 302h48M570 302h16M918 302h52M434 306h12M578 306h12M914 306h12M962 306h16M430 310h12M586 310h8M910 310h8M970 310h12M430 314h8M590 314h4M906 314h8M978 314h8M426 318h8M590 318h4M902 318h8M982 318h8M426 322h8M898 322h8M986 322h8M426 326h8M894 326h8M990 326h8M426 330h8M594 330h4M782 330h56M886 330h12M994 330h8M426 334h8M594 334h4M770 334h84M874 334h16M998 334h8M426 338h8M594 338h4M766 338h16M830 338h52M1002 338h8M170 342h24M426 342h8M594 342h4M758 342h16M850 342h24M1006 342h12M170 346h36M426 346h8M750 346h16M1010 346h32M198 350h12M426 350h8M738 350h20M1022 350h68M210 354h8M422 354h12M598 354h4M694 354h56M1070 354h32M218 358h8M414 358h16M598 358h4M682 358h28M1094 358h16M230 362h68M402 362h20M598 362h4M670 362h28M1106 362h8M1154 362h36M298 366h116M598 366h8M650 366h40M1114 366h8M1142 366h48M602 370h80M1118 370h28M602 374h72M1126 374h12M602 378h64M602 382h44M610 386h4M878 430h28M606 434h12M870 434h16M906 434h8M602 438h44M862 438h16M910 438h8M602 442h60M858 442h16M910 442h8M170 446h68M602 446h72M854 446h16M914 446h4M170 450h72M598 450h80M846 450h20M914 450h4M170 454h76M598 454h8M642 454h40M842 454h20M914 454h4M170 458h76M598 458h4M666 458h20M834 458h24M170 462h76M598 462h4M674 462h16M822 462h32M918 462h4M230 466h20M598 466h4M678 466h12M818 466h28M918 466h4M234 470h20M682 470h12M814 470h20M918 470h4M238 474h16M594 474h4M686 474h12M810 474h12M918 474h4M242 478h16M594 478h4M690 478h12M810 478h8M246 482h16M594 482h4M694 482h12M806 482h8M922 482h4M250 486h16M594 486h4M702 486h8M806 486h8M922 486h4M250 490h20M594 490h4M706 490h8M802 490h8M922 490h4M254 494h24M594 494h4M706 494h8M802 494h8M922 494h4M258 498h48M594 498h4M710 498h8M802 498h4M922 498h4M266 502h88M362 502h12M594 502h4M710 502h8M802 502h4M274 506h84M594 506h4M710 506h8M798 506h8M926 506h4M282 510h76M374 510h4M594 510h4M710 510h8M798 510h8M926 510h4M298 514h60M374 514h4M710 514h8M798 514h4M926 514h4M334 518h24M714 518h8M798 518h4M926 518h4M346 522h12M378 522h4M714 522h8M794 522h8M926 522h4M350 526h8M718 526h8M794 526h8M926 526h4M350 530h12M718 530h8M790 530h8M926 530h4M1126 530h12M354 534h8M382 534h4M590 534h4M722 534h8M786 534h12M926 534h4M1118 534h24M354 538h8M590 538h4M722 538h12M782 538h12M926 538h4M1114 538h12M1138 538h12M354 542h12M590 542h4M726 542h16M778 542h16M922 542h4M1106 542h16M1142 542h12M354 546h12M386 546h4M590 546h4M726 546h24M766 546h24M922 546h4M1098 546h20M1146 546h16M354 550h12M590 550h4M730 550h60M922 550h4M1070 550h44M1150 550h28M354 554h12M590 554h4M730 554h60M918 554h4M1050 554h64M1150 554h40M350 558h20M390 558h4M730 558h60M918 558h4M1050 558h60M1150 558h40M338 562h32M390 562h4M730 562h60M914 562h4M1054 562h52M1154 562h36M318 566h52M734 566h56M914 566h4M1062 566h44M1154 566h36M310 570h64M394 570h4M734 570h56M910 570h4M1074 570h32M1154 570h36M306 574h68M394 574h4M730 574h64M910 574h4M1082 574h24M1154 574h36M182 578h20M302 578h28M374 578h4M394 578h4M594 578h4M726 578h28M770 578h28M906 578h4M1086 578h20M1154 578h36M190 582h20M298 582h12M374 582h4M594 582h4M722 582h16M786 582h20M902 582h4M1094 582h12M1154 582h36M190 586h28M294 586h12M594 586h4M718 586h12M794 586h16M898 586h4M1098 586h12M1154 586h36M190 590h8M214 590h12M294 590h8M714 590h12M798 590h20M890 590h8M1098 590h12M1154 590h36M190 594h4M226 594h8M290 594h8M710 594h12M806 594h56M886 594h8M1102 594h8M1154 594h36M190 598h4M234 598h8M286 598h8M382 598h4M398 598h4M598 598h4M706 598h12M810 598h80M1102 598h8M1154 598h36M238 602h12M282 602h8M598 602h4M706 602h12M814 602h72M1102 602h8M1154 602h36M246 606h12M274 606h12M386 606h4M598 606h4M702 606h16M818 606h64M1102 606h8M1158 606h32M258 610h20M598 610h4M702 610h12M826 610h52M1098 610h12M1166 610h24M390 614h4M598 614h4M702 614h12M854 614h16M1094 614h12M186 618h4M394 618h4M598 618h4M702 618h12M1090 618h16M186 622h4M598 622h4M698 622h16M1086 622h16M186 626h4M598 626h4M698 626h12M1082 626h16M186 630h4M598 630h4M694 630h16M1078 630h16M186 634h4M694 634h12M1070 634h20M186 638h4M602 638h4M686 638h20M1066 638h20M186 642h4M602 642h4M682 642h20M1062 642h20M602 646h4M674 646h28M1058 646h20M602 650h8M666 650h32M1050 650h24M170 654h4M602 654h16M654 654h40M1046 654h24M174 658h4M602 658h88M1046 658h20M602 662h84M850 662h16M1042 662h24M602 666h76M850 666h20M1042 666h24M606 670h68M846 670h28M1038 670h24M610 674h56M846 674h28M1038 674h20M618 678h36M846 678h32M1034 678h20M846 682h36M1030 682h16M842 686h40M1030 686h8M170 690h4M842 690h16M862 690h24M1026 690h8M170 694h16M834 694h16M882 694h12M1018 694h8M182 698h8M830 698h12M890 698h8M1014 698h8M190 702h4M822 702h12M898 702h8M1010 702h4M194 706h4M818 706h8M906 706h4M1002 706h4M198 710h4M814 710h4M914 710h4M994 710h4M202 714h24M810 714h4M922 714h4M986 714h4M214 718h36M802 718h8M930 718h4M970 718h12M230 722h28M798 722h8M934 722h4M954 722h12M246 726h20M794 726h4M938 726h8M258 730h20M790 730h4M266 734h20M786 734h4M278 738h20M614 738h56M778 738h4M290 742h20M606 742h20M662 742h20M770 742h4M306 746h16M598 746h8M682 746h12M318 750h12M698 750h8M334 754h12M714 754h8M354 758h12M594 758h4M734 758h28M374 762h12M398 766h8M422 770h16M470 774h12M538 778h32"/>
<path stroke="rgb(67,67,67)" d="M514 270h32M510 274h12M534 274h16M502 278h12M542 278h16M494 282h16M550 282h16M454 286h48M558 286h16M438 290h56M566 290h12M434 294h16M574 294h12M942 294h16M430 298h8M578 298h12M914 298h24M954 298h20M426 302h8M586 302h8M910 302h8M970 302h8M426 306h8M590 306h4M906 306h8M978 306h4M422 310h8M902 310h8M982 310h4M422 314h8M594 314h4M898 314h8M986 314h4M418 318h8M594 318h4M894 318h8M990 318h4M418 322h8M594 322h4M778 322h64M886 322h12M994 322h4M418 326h8M594 326h4M770 326h92M874 326h20M998 326h4M418 330h8M762 330h20M838 330h48M1002 330h8M170 334h24M418 334h8M758 334h12M854 334h20M1006 334h12M170 338h32M418 338h8M598 338h4M750 338h16M1010 338h68M194 342h16M418 342h8M598 342h4M734 342h24M1018 342h76M206 346h8M414 346h12M598 346h4M678 346h72M1042 346h60M210 350h8M414 350h12M598 350h8M642 350h96M1090 350h16M218 354h8M406 354h16M602 354h92M1102 354h12M226 358h20M298 358h116M602 358h80M1110 358h8M1146 358h44M298 362h104M602 362h68M1114 362h8M1138 362h16M606 366h44M1122 366h20M886 434h20M878 438h32M874 442h12M906 442h4M870 446h8M906 446h8M866 450h8M910 450h4M606 454h36M862 454h12M910 454h4M602 458h64M858 458h12M914 458h4M602 462h72M854 462h12M914 462h4M170 466h60M602 466h76M846 466h16M914 466h4M170 470h64M598 470h84M834 470h28M914 470h4M170 474h68M598 474h88M822 474h36M170 478h72M598 478h92M818 478h32M918 478h4M170 482h76M598 482h12M642 482h52M814 482h28M918 482h4M170 486h32M218 486h32M598 486h8M654 486h48M814 486h12M918 486h4M230 490h20M598 490h4M670 490h36M810 490h12M918 490h4M238 494h16M598 494h4M686 494h20M810 494h8M242 498h16M598 498h4M690 498h20M806 498h12M250 502h16M598 502h4M694 502h16M806 502h8M922 502h4M254 506h20M358 506h4M370 506h4M598 506h4M698 506h12M806 506h8M922 506h4M258 510h24M698 510h12M806 510h8M922 510h4M266 514h32M594 514h4M702 514h8M802 514h8M922 514h4M270 518h64M358 518h4M594 518h4M702 518h12M802 518h8M922 518h4M282 522h64M358 522h4M594 522h4M706 522h8M802 522h8M922 522h4M290 526h60M358 526h4M378 526h4M594 526h4M706 526h12M802 526h4M922 526h4M294 530h56M594 530h4M710 530h8M798 530h8M922 530h4M302 534h52M362 534h4M594 534h4M710 534h12M798 534h8M922 534h4M306 538h48M362 538h4M382 538h4M594 538h4M714 538h8M794 538h8M922 538h4M1126 538h12M314 542h40M594 542h4M714 542h12M794 542h8M1122 542h20M170 546h8M314 546h40M594 546h4M718 546h8M790 546h12M918 546h4M1118 546h8M1134 546h12M170 550h20M310 550h44M366 550h4M386 550h4M594 550h4M718 550h12M790 550h12M918 550h4M1114 550h8M1138 550h12M170 554h28M306 554h48M366 554h4M594 554h4M718 554h12M790 554h12M1114 554h8M1142 554h8M170 558h32M302 558h48M594 558h4M718 558h12M790 558h12M914 558h4M1110 558h8M1146 558h4M170 562h32M298 562h40M370 562h4M594 562h4M718 562h12M790 562h16M1106 562h12M1146 562h8M170 566h36M298 566h20M370 566h4M390 566h4M594 566h4M718 566h16M790 566h16M910 566h4M1106 566h8M1146 566h8M170 570h36M298 570h12M594 570h4M718 570h16M790 570h20M906 570h4M1106 570h8M1146 570h8M170 574h40M294 574h12M594 574h4M718 574h12M794 574h20M906 574h4M1106 574h8M1146 574h8M170 578h12M202 578h16M290 578h12M714 578h12M798 578h28M902 578h4M1106 578h8M1146 578h8M170 582h4M182 582h8M210 582h12M290 582h8M394 582h4M710 582h12M806 582h60M894 582h8M1106 582h8M1146 582h8M186 586h4M218 586h8M286 586h8M378 586h4M706 586h12M810 586h68M886 586h12M1110 586h4M1146 586h8M226 590h8M286 590h8M598 590h4M698 590h16M818 590h72M1110 590h8M1146 590h8M234 594h8M282 594h8M598 594h4M674 594h36M862 594h24M1110 594h8M1146 594h8M242 598h8M278 598h8M602 598h4M658 598h48M1110 598h8M1146 598h8M250 602h12M270 602h12M398 602h4M602 602h4M654 602h52M1110 602h8M1146 602h8M186 606h4M258 606h16M602 606h8M650 606h52M1110 606h8M1150 606h8M186 610h4M602 610h8M650 610h52M1110 610h8M1150 610h16M186 614h4M398 614h4M602 614h8M650 614h52M1106 614h8M1154 614h36M602 618h12M646 618h56M1106 618h8M1158 618h32M602 622h16M642 622h56M1102 622h12M1170 622h20M602 626h20M638 626h60M1098 626h12M602 630h92M1094 630h12M602 634h92M1090 634h12M606 638h80M1086 638h16M606 642h76M1082 642h16M606 646h68M1078 646h16M170 650h4M610 650h56M1074 650h16M618 654h36M1070 654h16M178 658h4M1066 658h16M1066 662h12M1066 666h12M1062 670h12M1058 674h12M1054 678h12M1046 682h12M1038 686h16M858 690h4M1034 690h12M850 694h32M1026 694h12M170 698h12M842 698h12M874 698h16M1022 698h8M182 702h8M834 702h8M890 702h8M1014 702h8M190 706h4M826 706h8M902 706h4M1006 706h8M194 710h4M818 710h8M910 710h4M998 710h8M198 714h4M814 714h4M918 714h4M990 714h8M202 718h12M810 718h4M926 718h4M982 718h8M214 722h16M806 722h4M966 722h12M222 726h24M798 726h4M946 726h12M238 730h20M794 730h4M254 734h12M790 734h4M266 738h12M782 738h4M278 742h12M626 742h36M774 742h4M294 746h12M606 746h12M670 746h12M766 746h4M310 750h8M598 750h4M686 750h12M322 754h12M706 754h8M342 758h12M726 758h8M366 762h8M594 762h4M390 766h8M414 770h8M458 774h12M510 778h28M590 782h4"/>
<path stroke="rgb(71,71,71)" d="M510 266h36M502 270h12M546 270h12M498 274h12M550 274h16M482 278h20M558 278h16M442 282h52M566 282h12M434 286h20M574 286h8M430 290h8M578 290h12M426 294h8M586 294h8M918 294h24M958 294h16M422 298h8M590 298h4M906 298h8M974 298h8M418 302h8M594 302h4M902 302h8M978 302h8M418 306h8M594 306h4M898 306h8M982 306h8M414 310h8M594 310h4M790 310h36M894 310h8M986 310h8M414 314h8M770 314h80M886 314h12M990 314h8M410 318h8M598 318h4M766 318h128M994 318h8M410 322h8M598 322h4M758 322h20M842 322h44M998 322h12M170 326h24M410 326h8M598 326h4M754 326h16M862 326h12M1002 326h16M170 330h32M406 330h12M598 330h8M746 330h16M1010 330h76M194 334h12M406 334h12M598 334h160M1018 334h80M202 338h12M406 338h12M602 338h148M1078 338h24M210 342h8M402 342h16M602 342h132M1094 342h16M214 346h8M398 346h16M602 346h76M1102 346h12M218 350h12M322 350h92M606 350h36M1106 350h8M1150 350h40M226 354h16M294 354h112M1114 354h4M1142 354h48M246 358h52M1118 358h8M1138 358h8M1122 362h16M886 442h20M878 446h28M874 450h12M902 450h8M874 454h8M906 454h4M870 458h8M906 458h8M866 462h8M910 462h4M862 466h12M910 466h4M862 470h8M910 470h4M858 474h8M914 474h4M850 478h16M914 478h4M610 482h32M842 482h20M914 482h4M202 486h16M606 486h48M826 486h36M914 486h4M170 490h32M214 490h16M602 490h68M822 490h36M170 494h32M214 494h24M602 494h84M818 494h36M918 494h4M170 498h32M218 498h24M602 498h88M818 498h32M918 498h4M170 502h32M218 502h32M602 502h92M814 502h28M918 502h4M170 506h32M222 506h32M602 506h96M814 506h16M918 506h4M170 510h32M238 510h20M358 510h4M370 510h4M598 510h20M638 510h60M814 510h12M918 510h4M170 514h32M246 514h20M358 514h4M598 514h12M646 514h56M810 514h12M918 514h4M170 518h28M254 518h16M374 518h4M598 518h8M650 518h52M810 518h12M918 518h4M170 522h32M258 522h24M598 522h4M658 522h48M810 522h8M918 522h4M170 526h36M266 526h24M598 526h4M662 526h44M806 526h12M918 526h4M170 530h36M274 530h20M362 530h4M378 530h4M598 530h4M674 530h36M806 530h8M918 530h4M170 534h36M282 534h20M598 534h4M690 534h20M806 534h8M918 534h4M170 538h40M286 538h20M698 538h16M802 538h12M918 538h4M170 542h40M290 542h24M382 542h4M702 542h12M802 542h8M918 542h4M178 546h32M294 546h20M366 546h4M702 546h16M802 546h8M914 546h4M1126 546h8M190 550h20M294 550h16M706 550h12M802 550h12M914 550h4M1122 550h16M198 554h16M290 554h16M386 554h4M706 554h12M802 554h12M914 554h4M1122 554h20M202 558h12M290 558h12M370 558h4M706 558h12M802 558h16M910 558h4M1118 558h8M1134 558h12M202 562h12M290 562h8M706 562h12M806 562h28M838 562h20M910 562h4M1118 562h8M1138 562h8M206 566h8M290 566h8M706 566h12M806 566h60M906 566h4M1114 566h8M1142 566h4M206 570h12M286 570h12M706 570h12M810 570h60M902 570h4M1114 570h8M1142 570h4M210 574h8M286 574h8M374 574h4M702 574h16M814 574h60M898 574h8M1114 574h8M1142 574h4M218 578h4M286 578h4M598 578h4M690 578h24M826 578h56M894 578h8M1114 578h8M1142 578h4M174 582h8M222 582h4M282 582h8M598 582h4M666 582h44M866 582h28M1114 582h8M1142 582h4M278 586h8M394 586h4M598 586h8M658 586h48M878 586h8M1114 586h8M1142 586h4M186 590h4M234 590h12M278 590h8M602 590h8M650 590h48M1118 590h4M1142 590h4M186 594h4M242 594h12M274 594h8M382 594h4M602 594h12M642 594h32M1118 594h4M1142 594h4M186 598h4M250 598h28M606 598h16M634 598h24M1118 598h4M1142 598h4M186 602h4M262 602h8M606 602h48M1118 602h4M1142 602h4M398 606h4M610 606h40M1118 606h4M1142 606h8M398 610h4M610 610h40M1118 610h4M1146 610h4M610 614h40M1114 614h8M1146 614h8M614 618h32M1114 618h4M1150 618h8M618 622h24M1114 622h4M1154 622h16M622 626h16M1110 626h8M1158 626h32M1106 630h8M1166 630h24M1102 634h12M1178 634h12M1102 638h8M170 642h4M1098 642h8M170 646h4M1094 646h8M1090 650h8M174 654h4M182 654h4M1086 654h8M1082 658h8M1078 662h8M1078 666h4M1074 670h4M1070 674h4M1066 678h8M1058 682h8M1054 686h8M1046 690h8M1038 694h8M854 698h20M1030 698h8M170 702h12M842 702h16M866 702h24M1022 702h8M186 706h4M834 706h12M890 706h12M1014 706h8M190 710h4M826 710h8M902 710h8M1006 710h8M194 714h4M818 714h4M910 714h8M998 714h4M198 718h4M814 718h4M922 718h4M990 718h4M202 722h12M810 722h4M930 722h4M978 722h8M214 726h8M802 726h4M934 726h4M958 726h12M222 730h16M798 730h4M938 730h12M238 734h16M794 734h4M254 738h12M786 738h4M266 742h12M778 742h4M282 746h12M618 746h52M294 750h16M602 750h8M678 750h8M762 750h4M314 754h8M694 754h12M330 758h12M714 758h12M354 762h12M738 762h20M378 766h12M406 770h8M442 774h16M490 778h20M558 782h32"/>
<path stroke="rgb(75,75,75)" d="M510 262h40M502 266h8M546 266h12M490 270h12M558 270h12M446 274h52M566 274h12M438 278h44M574 278h8M430 282h12M578 282h8M426 286h8M582 286h8M422 290h8M590 290h4M922 290h52M418 294h8M594 294h4M906 294h12M974 294h8M414 298h8M594 298h8M898 298h8M982 298h8M410 302h8M598 302h8M778 302h56M894 302h8M986 302h8M406 306h12M598 306h8M762 306h88M886 306h12M990 306h8M170 310h8M406 310h8M598 310h12M754 310h36M826 310h68M994 310h8M170 314h24M402 314h12M598 314h44M750 314h20M850 314h36M998 314h12M170 318h28M398 318h12M602 318h80M742 318h24M1002 318h20M170 322h32M386 322h24M602 322h156M1010 322h80M194 326h12M326 326h84M602 326h152M1018 326h80M202 330h8M318 330h88M606 330h140M1086 330h20M206 334h12M314 334h92M1098 334h12M214 338h8M310 338h96M1102 338h12M1154 338h36M218 342h8M306 342h96M1110 342h4M1146 342h44M222 346h8M302 346h96M1114 346h4M1142 346h48M230 350h12M290 350h32M1114 350h8M1138 350h12M242 354h52M1118 354h12M1134 354h8M1126 358h12M886 450h16M882 454h24M878 458h8M902 458h4M874 462h8M902 462h8M874 466h4M906 466h4M870 470h8M906 470h4M866 474h8M910 474h4M866 478h8M910 478h4M862 482h8M910 482h4M862 486h8M202 490h4M858 490h12M914 490h4M202 494h4M854 494h12M914 494h4M202 498h4M214 498h4M850 498h16M914 498h4M202 502h4M842 502h24M914 502h4M202 506h4M218 506h4M366 506h4M830 506h32M914 506h4M202 510h4M222 510h16M618 510h20M826 510h36M914 510h4M202 514h4M222 514h24M610 514h36M822 514h40M914 514h4M198 518h8M222 518h32M606 518h44M822 518h40M914 518h4M202 522h8M226 522h32M374 522h4M602 522h56M818 522h44M914 522h4M206 526h4M226 526h8M242 526h24M362 526h4M602 526h20M634 526h28M818 526h44M914 526h4M206 530h4M254 530h20M602 530h12M642 530h32M814 530h48M914 530h4M206 534h4M266 534h16M602 534h8M646 534h44M814 534h48M914 534h4M210 538h4M274 538h12M598 538h8M650 538h48M814 538h48M914 538h4M210 542h4M278 542h12M366 542h4M598 542h8M654 542h48M810 542h52M914 542h4M210 546h4M282 546h12M598 546h4M654 546h48M810 546h56M210 550h4M282 550h12M598 550h4M658 550h48M814 550h52M910 550h4M214 554h4M282 554h8M598 554h4M658 554h48M814 554h56M910 554h4M214 558h4M282 558h8M386 558h4M598 558h4M658 558h48M818 558h56M906 558h4M1126 558h8M214 562h4M282 562h8M598 562h4M658 562h48M834 562h4M858 562h16M906 562h4M1126 562h12M214 566h4M282 566h8M598 566h4M658 566h48M866 566h12M902 566h4M1122 566h20M218 570h4M278 570h8M374 570h4M390 570h4M598 570h4M658 570h48M870 570h12M898 570h4M1122 570h8M1134 570h8M218 574h4M278 574h8M598 574h8M654 574h48M874 574h24M1122 574h4M1134 574h8M222 578h4M278 578h8M602 578h4M650 578h40M882 578h12M1122 578h4M1134 578h8M274 582h8M378 582h4M602 582h12M646 582h20M1122 582h4M1134 582h8M182 586h4M226 586h4M234 586h16M270 586h8M606 586h12M638 586h20M1122 586h4M1134 586h8M246 590h32M394 590h4M610 590h40M1122 590h4M1134 590h8M254 594h20M614 594h28M1122 594h4M1134 594h8M622 598h12M1122 598h4M1134 598h8M386 602h4M1122 602h4M1138 602h4M1122 606h4M1138 606h4M390 610h4M1122 610h4M1138 610h8M394 614h4M1142 614h4M1118 618h4M1142 618h8M1118 622h4M1146 622h8M1118 626h4M1146 626h12M1114 630h8M1150 630h16M170 634h4M1114 634h4M1158 634h20M170 638h4M1110 638h8M1166 638h24M1106 642h8M1178 642h12M182 646h4M1102 646h8M182 650h4M1098 650h8M178 654h4M1094 654h4M1090 658h4M1086 662h4M1082 666h4M1078 670h4M1074 674h4M1074 678h4M1066 682h8M1062 686h4M1054 690h8M1046 694h8M1038 698h8M858 702h8M1030 702h8M170 706h16M846 706h12M866 706h24M1022 706h8M186 710h4M834 710h12M894 710h8M1014 710h4M190 714h4M822 714h12M906 714h4M1002 714h8M194 718h4M818 718h4M914 718h8M994 718h8M198 722h4M814 722h4M922 722h8M986 722h8M206 726h8M806 726h4M970 726h12M214 730h8M802 730h4M950 730h12M222 734h16M238 738h16M790 738h4M254 742h12M782 742h4M270 746h12M770 746h4M286 750h8M610 750h16M662 750h16M302 754h12M598 754h8M686 754h8M318 758h12M706 758h8M342 762h12M730 762h8M758 762h4M366 766h12M594 766h4M398 770h8M430 774h12M478 778h12M534 782h24"/>
<path stroke="rgb(78,78,78)" d="M510 258h36M498 262h12M550 262h8M470 266h32M558 266h16M438 270h52M570 270h12M434 274h12M578 274h8M430 278h8M582 278h8M426 282h4M586 282h8M418 286h8M590 286h8M934 286h36M414 290h8M594 290h8M910 290h12M974 290h8M406 294h12M598 294h12M898 294h8M982 294h8M170 298h20M394 298h20M602 298h56M746 298h104M886 298h12M990 298h4M170 302h40M346 302h64M606 302h172M834 302h60M994 302h8M170 306h40M334 306h72M606 306h156M850 306h36M998 306h12M178 310h32M322 310h84M610 310h144M1002 310h76M194 314h16M314 314h88M642 314h108M1010 314h88M198 318h12M310 318h88M682 318h60M1022 318h80M202 322h8M306 322h80M1090 322h16M206 326h8M302 326h24M1098 326h12M210 330h12M302 330h16M1106 330h8M1154 330h36M218 334h8M298 334h16M1110 334h4M1146 334h44M222 338h12M294 338h16M1114 338h4M1142 338h12M226 342h16M286 342h20M1114 342h8M1142 342h4M230 346h72M1118 346h8M1138 346h4M242 350h48M1122 350h16M1130 354h4M886 458h16M882 462h20M878 466h8M898 466h8M878 470h8M902 470h4M874 474h8M906 474h4M874 478h4M906 478h4M870 482h8M906 482h4M870 486h4M910 486h4M210 490h4M870 490h4M910 490h4M866 494h8M910 494h4M866 498h8M910 498h4M866 502h4M910 502h4M362 506h4M862 506h8M218 510h4M862 510h8M206 514h4M370 514h4M862 514h8M206 518h4M862 518h8M222 522h4M862 522h8M222 526h4M234 526h8M622 526h12M862 526h8M210 530h4M226 530h28M614 530h28M862 530h8M210 534h4M226 534h40M378 534h4M610 534h36M862 534h8M910 534h4M226 538h48M606 538h44M862 538h8M910 538h4M230 542h8M262 542h16M606 542h16M634 542h20M862 542h12M910 542h4M230 546h4M266 546h16M382 546h4M602 546h16M638 546h16M866 546h8M910 546h4M214 550h4M270 550h12M602 550h16M638 550h20M866 550h8M906 550h4M270 554h12M370 554h4M602 554h12M642 554h16M870 554h8M906 554h4M270 558h12M602 558h12M642 558h16M874 558h8M902 558h4M218 562h4M270 562h12M602 562h12M642 562h16M874 562h12M898 562h8M218 566h4M270 566h12M602 566h12M642 566h16M878 566h24M270 570h8M602 570h12M642 570h16M882 570h16M1130 570h4M270 574h8M390 574h4M606 574h12M638 574h16M1126 574h8M238 578h8M262 578h16M606 578h44M1126 578h8M238 582h36M614 582h32M1126 582h8M170 586h4M230 586h4M250 586h20M618 586h20M1126 586h8M182 590h4M382 590h4M1126 590h8M1126 594h8M1126 598h8M1126 602h12M1126 606h4M1134 606h4M1126 610h4M1134 610h4M1122 614h4M1134 614h8M1122 618h4M1138 618h4M1122 622h4M1138 622h8M170 626h4M1142 626h4M170 630h4M1146 630h4M1118 634h4M1146 634h12M182 638h4M1118 638h4M1150 638h16M182 642h4M1114 642h4M1162 642h16M1110 646h8M1170 646h20M174 650h4M1106 650h8M1182 650h8M1098 654h8M1094 658h8M1090 662h8M1086 666h8M1082 670h8M1078 674h8M1078 678h4M1074 682h4M1066 686h8M1062 690h4M1054 694h8M1046 698h8M1038 702h8M858 706h8M1030 706h8M170 710h16M846 710h12M866 710h28M1018 710h8M186 714h4M834 714h8M898 714h8M1010 714h8M190 718h4M822 718h8M910 718h4M1002 718h8M194 722h4M818 722h4M918 722h4M994 722h4M198 726h8M810 726h4M930 726h4M982 726h8M206 730h8M806 730h4M934 730h4M962 730h12M214 734h8M798 734h4M938 734h12M226 738h12M242 742h12M258 746h12M774 746h4M274 750h12M626 750h36M290 754h12M606 754h8M678 754h8M310 758h8M598 758h4M694 758h12M330 762h12M718 762h12M354 766h12M386 770h12M418 774h12M466 778h12M510 782h24"/>
<path stroke="rgb(82,82,82)" d="M430 202h148M510 254h36M498 258h12M546 258h12M450 262h48M558 262h16M438 266h32M574 266h8M430 270h8M582 270h8M426 274h8M586 274h8M422 278h8M590 278h8M418 282h8M594 282h8M950 282h16M414 286h4M598 286h8M918 286h16M970 286h12M402 290h12M602 290h20M902 290h8M982 290h8M170 294h76M342 294h64M610 294h248M882 294h16M990 294h8M190 298h68M314 298h80M658 298h88M850 298h36M994 298h12M210 302h48M294 302h52M1002 302h88M210 306h40M294 306h40M1010 306h92M210 310h24M294 310h28M1078 310h28M210 314h16M294 314h20M1098 314h12M1170 314h20M210 318h12M294 318h16M1102 318h12M1154 318h36M210 322h12M294 322h12M1106 322h8M1150 322h40M214 326h12M290 326h12M1110 326h8M1146 326h44M222 330h12M286 330h16M1114 330h4M1142 330h12M226 334h32M262 334h36M1114 334h8M1142 334h4M234 338h60M1118 338h8M1138 338h4M242 342h44M1122 342h20M1126 346h12M886 466h12M886 470h16M882 474h8M898 474h8M878 478h8M902 478h4M878 482h4M902 482h4M874 486h8M906 486h4M206 490h4M874 490h4M906 490h4M210 494h4M874 494h4M906 494h4M874 498h4M214 502h4M870 502h8M870 506h8M910 506h4M206 510h4M362 510h4M870 510h4M910 510h4M218 514h4M870 514h4M910 514h4M870 518h4M910 518h4M362 522h4M870 522h4M910 522h4M870 526h4M910 526h4M870 530h8M910 530h4M870 534h8M366 538h4M870 538h8M906 538h4M226 542h4M238 542h24M622 542h12M874 542h4M906 542h4M214 546h4M234 546h32M618 546h20M874 546h8M906 546h4M230 550h40M618 550h20M874 550h8M902 550h4M230 554h40M614 554h28M878 554h8M898 554h8M234 558h36M614 558h28M882 558h20M234 562h36M386 562h4M614 562h28M886 562h12M234 566h36M374 566h4M614 566h28M234 570h36M614 570h28M222 574h4M234 574h36M618 574h20M234 578h4M246 578h16M378 578h4M226 582h4M234 582h4M178 586h4M182 594h4M394 594h4M386 598h4M390 606h4M1130 606h4M394 610h4M1130 610h4M1126 614h8M1126 618h4M1134 618h4M170 622h4M182 622h4M1126 622h4M1134 622h4M182 626h4M1122 626h4M1134 626h8M182 630h4M1122 630h4M1138 630h8M182 634h4M1122 634h4M1142 634h4M1146 638h4M1118 642h4M1150 642h12M174 646h4M1118 646h4M1154 646h16M178 650h4M1114 650h4M1166 650h16M1106 654h12M1174 654h16M1102 658h8M1186 658h4M1098 662h8M1094 666h4M1090 670h4M1086 674h4M1082 678h4M1078 682h4M1074 686h4M1066 690h4M1062 694h4M1054 698h4M1046 702h8M1038 706h8M858 710h8M1026 710h8M170 714h16M842 714h12M874 714h24M1018 714h8M186 718h4M830 718h12M902 718h8M1010 718h8M190 722h4M822 722h4M914 722h4M998 722h8M194 726h4M814 726h4M922 726h8M990 726h8M202 730h4M810 730h4M974 730h12M210 734h4M802 734h4M950 734h16M218 738h8M794 738h4M230 742h12M786 742h4M246 746h12M778 746h4M262 750h12M766 750h4M278 754h12M614 754h16M658 754h20M762 754h4M294 758h16M602 758h4M686 758h8M318 762h12M706 762h12M342 766h12M734 766h28M370 770h16M594 770h4M406 774h12M450 778h16M494 782h16"/>
<path stroke="rgb(86,86,86)" d="M346 202h84M578 202h40M510 250h36M498 254h12M546 254h12M446 258h52M558 258h12M434 262h16M574 262h8M430 266h8M582 266h8M426 270h4M590 270h4M422 274h4M594 274h4M418 278h4M598 278h4M410 282h8M602 282h8M926 282h24M966 282h16M394 286h20M606 286h72M906 286h12M982 286h12M170 290h88M334 290h68M622 290h232M886 290h16M990 290h12M246 294h96M858 294h24M998 294h32M258 298h56M1006 298h100M258 302h36M1090 302h20M1150 302h40M250 306h44M1102 306h12M1150 306h40M234 310h60M1106 310h8M1146 310h44M226 314h68M1110 314h8M1146 314h24M222 318h72M1114 318h4M1142 318h12M222 322h72M1114 322h4M1142 322h8M226 326h64M1118 326h4M1138 326h8M234 330h52M1118 330h4M1138 330h4M258 334h4M1122 334h8M1134 334h8M1126 338h12M890 474h8M886 478h16M882 482h20M882 486h8M898 486h8M878 490h8M902 490h4M206 494h4M878 494h8M902 494h4M878 498h4M906 498h4M878 502h4M906 502h4M206 506h4M214 506h4M878 506h4M906 506h4M366 510h4M874 510h8M906 510h4M362 514h4M874 514h8M906 514h4M218 518h4M362 518h4M874 518h8M906 518h4M874 522h8M906 522h4M210 526h4M374 526h4M874 526h8M906 526h4M222 530h4M878 530h4M906 530h4M366 534h4M878 534h4M906 534h4M378 538h4M878 538h4M902 538h4M214 542h4M878 542h8M902 542h4M226 546h4M882 546h8M898 546h8M370 550h4M382 550h4M882 550h20M886 554h12M218 558h4M230 558h4M230 562h4M222 570h4M390 578h4M174 586h4M170 590h4M182 598h4M394 598h4M182 602h4M394 602h4M182 606h4M394 606h4M182 610h4M170 614h4M182 614h4M170 618h4M182 618h4M1130 618h4M1130 622h4M1126 626h8M1126 630h4M1134 630h4M1134 634h8M1122 638h4M1138 638h8M174 642h4M1122 642h4M1142 642h8M178 646h4M1146 646h8M1118 650h4M1150 650h16M1118 654h4M1162 654h12M1110 658h8M1170 658h16M1106 662h8M1182 662h8M1098 666h8M1094 670h8M1090 674h8M1086 678h4M1082 682h4M1078 686h4M1070 690h4M1066 694h4M1058 698h8M1054 702h4M1046 706h8M1034 710h8M854 714h20M1026 714h8M170 718h16M842 718h12M878 718h24M1018 718h8M186 722h4M826 722h12M906 722h8M1006 722h8M818 726h8M918 726h4M998 726h8M198 730h4M814 730h4M926 730h8M986 730h8M202 734h8M806 734h4M934 734h4M966 734h16M210 738h8M798 738h4M938 738h16M222 742h8M790 742h4M234 746h12M782 746h4M250 750h12M770 750h4M266 754h12M630 754h28M282 758h12M606 758h12M678 758h8M302 762h16M598 762h4M698 762h8M326 766h16M726 766h8M358 770h12M394 774h12M438 778h12M478 782h16"/>
<path stroke="rgb(89,89,89)" d="M170 202h176M618 202h240M938 202h60M498 206h56M522 242h12M506 246h40M494 250h16M546 250h12M442 254h56M558 254h12M434 258h12M570 258h12M426 262h8M582 262h8M422 266h8M590 266h4M418 270h8M594 270h8M414 274h8M598 274h8M410 278h8M602 278h16M938 278h44M378 282h32M610 282h76M914 282h12M982 282h16M170 286h92M330 286h64M678 286h172M894 286h12M994 286h16M258 290h76M854 290h32M1002 290h84M1030 294h80M1154 294h36M1106 298h12M1146 298h44M1110 302h8M1142 302h8M1114 306h4M1142 306h8M1114 310h8M1138 310h8M1118 314h4M1138 314h8M1118 318h4M1138 318h4M1118 322h8M1134 322h8M1122 326h16M1122 330h16M1130 334h4M890 486h8M886 490h16M886 494h16M206 498h8M882 498h8M898 498h8M206 502h4M882 502h8M898 502h8M882 506h4M902 506h4M882 510h4M902 510h4M882 514h4M902 514h4M370 518h4M882 518h4M902 518h4M210 522h4M882 522h4M902 522h4M882 526h4M902 526h4M882 530h8M898 530h8M222 534h4M882 534h8M898 534h8M214 538h4M882 538h20M886 542h16M890 546h8M218 554h4M374 562h4M230 566h4M226 578h4M230 582h4M382 586h4M178 590h4M170 594h4M170 598h4M170 602h4M170 606h4M170 610h4M1130 630h4M174 634h4M1126 634h8M174 638h4M1126 638h4M1134 638h4M178 642h4M1134 642h8M1122 646h4M1138 646h8M1122 650h4M1142 650h8M1146 654h16M1118 658h4M1158 658h12M1114 662h4M1166 662h16M1106 666h12M1178 666h12M1102 670h8M1186 670h4M1098 674h4M1090 678h8M1086 682h4M1082 686h4M1074 690h8M1070 694h4M1066 698h4M1058 702h4M1054 706h4M1042 710h8M1034 714h8M854 718h24M1026 718h8M174 722h12M838 722h12M890 722h16M1014 722h8M190 726h4M826 726h8M910 726h8M1006 726h8M194 730h4M818 730h4M922 730h4M994 730h8M198 734h4M810 734h4M982 734h8M206 738h4M802 738h4M954 738h16M214 742h8M794 742h4M222 746h12M786 746h4M238 750h12M774 750h4M254 754h12M270 758h12M618 758h16M654 758h24M290 762h12M602 762h8M686 762h12M314 766h12M710 766h16M342 770h16M378 774h16M594 774h4M422 778h16M466 782h12"/>
<path stroke="rgb(93,93,93)" d="M858 202h80M998 202h96M430 206h68M554 206h24M506 210h44M514 214h28M518 218h20M514 222h24M514 226h24M514 230h28M514 234h28M510 238h32M506 242h16M534 242h16M490 246h16M546 246h12M442 250h52M558 250h12M430 254h12M570 254h12M426 258h8M582 258h8M422 262h4M590 262h4M418 266h4M594 266h8M414 270h4M602 270h8M406 274h8M606 274h52M946 274h36M170 278h64M354 278h56M618 278h76M922 278h16M982 278h20M170 282h96M326 282h52M686 282h160M898 282h16M998 282h16M262 286h68M850 286h44M1010 286h80M1086 290h24M1154 290h36M1110 294h8M1142 294h12M1118 298h4M1138 298h8M1118 302h8M1134 302h8M1118 306h8M1134 306h8M1122 310h8M1134 310h4M1122 314h16M1122 318h16M1126 322h8M890 498h8M890 502h8M886 506h16M214 510h4M886 510h16M366 514h4M886 514h16M886 518h16M218 522h4M886 522h16M886 526h16M366 530h4M374 530h4M890 530h8M890 534h8M370 546h4M226 550h4M382 554h4M222 566h4M386 566h4M230 570h4M378 574h4M230 578h4M390 582h4M174 590h4M178 594h4M386 594h4M390 602h4M174 630h4M178 634h4M178 638h4M1130 638h4M1126 642h8M1126 646h4M1134 646h4M1134 650h8M1122 654h4M1138 654h8M1146 658h12M1118 662h4M1150 662h16M1118 666h4M1166 666h12M1110 670h8M1174 670h12M1102 674h12M1182 674h8M1098 678h8M1090 682h8M1086 686h8M1082 690h4M1074 694h8M1070 698h4M1062 702h8M1058 706h4M1050 710h8M1042 714h8M1034 718h8M170 722h4M850 722h40M1022 722h8M174 726h16M834 726h16M902 726h8M1014 726h8M190 730h4M822 730h8M914 730h8M1002 730h8M194 734h4M814 734h4M926 734h8M990 734h8M202 738h4M806 738h4M934 738h4M970 738h16M210 742h4M798 742h4M938 742h20M218 746h4M790 746h4M226 750h12M778 750h4M242 754h12M766 754h4M258 758h12M634 758h20M762 758h4M278 762h12M610 762h8M678 762h8M298 766h16M598 766h4M698 766h12M326 770h16M730 770h32M362 774h16M410 778h12M450 782h16"/>
<path stroke="rgb(97,97,97)" d="M1094 202h96M414 206h16M578 206h16M446 210h60M550 210h16M494 214h20M542 214h12M498 218h20M538 218h16M498 222h16M538 222h16M498 226h16M538 226h16M498 230h16M542 230h12M498 234h16M542 234h12M494 238h16M542 238h12M470 242h36M550 242h8M438 246h52M558 246h12M430 250h12M570 250h8M426 254h4M582 254h4M418 258h8M590 258h4M414 262h8M594 262h8M410 266h8M602 266h8M402 270h12M610 270h60M954 270h28M170 274h72M350 274h56M658 274h40M930 274h16M982 274h24M234 278h36M322 278h32M694 278h144M906 278h16M1002 278h20M266 282h60M846 282h52M1014 282h76M1090 286h20M1110 290h8M1142 290h12M1118 294h8M1134 294h8M1122 298h16M1126 302h8M1126 306h8M1130 310h4M210 502h4M210 518h4M366 518h4M370 522h4M366 526h4M214 534h4M222 538h4M378 542h4M218 550h4M226 554h4M374 558h4M230 574h4M390 586h4M174 594h4M178 598h4M390 598h4M174 622h4M174 626h8M178 630h4M1130 646h4M1126 650h8M1126 654h4M1134 654h4M1122 658h4M1134 658h12M1122 662h4M1142 662h8M1146 666h20M1118 670h4M1162 670h12M1114 674h8M1170 674h12M1106 678h12M1178 678h12M1098 682h12M1094 686h8M1086 690h8M1082 694h4M1074 698h8M1070 702h4M1062 706h4M1058 710h4M1050 714h4M1042 718h8M1030 722h8M170 726h4M850 726h52M1022 726h8M178 730h12M830 730h16M906 730h8M1010 730h12M190 734h4M818 734h8M918 734h8M998 734h12M198 738h4M810 738h4M930 738h4M986 738h8M202 742h8M802 742h4M958 742h20M210 746h8M218 750h8M782 750h4M226 754h16M770 754h4M246 758h12M266 762h12M618 762h20M650 762h28M282 766h16M602 766h8M686 766h12M310 770h16M718 770h12M342 774h20M390 778h20M438 782h12"/>
<path stroke="rgb(100,100,100)" d="M354 206h60M594 206h12M430 210h16M566 210h16M438 214h56M554 214h16M438 218h60M554 218h16M438 222h60M554 222h12M438 226h60M554 226h12M438 230h60M554 230h12M438 234h60M554 234h12M438 238h56M554 238h12M434 242h36M558 242h12M426 246h12M570 246h8M422 250h8M578 250h8M418 254h8M586 254h8M414 258h4M594 258h8M406 262h8M602 262h8M398 266h12M610 266h60M170 270h76M346 270h56M670 270h36M938 270h16M982 270h28M242 274h32M318 274h32M698 274h136M918 274h12M1006 274h20M270 278h52M838 278h68M1022 278h68M1090 282h20M1110 286h8M1142 286h48M1118 290h8M1134 290h8M1126 294h8M210 506h4M210 510h4M210 514h8M366 522h4M218 526h4M370 542h4M222 562h4M378 570h4M386 570h4M226 574h4M382 582h4M386 590h8M390 594h4M174 598h4M178 602h4M178 606h4M178 610h4M174 614h8M174 618h8M178 622h4M1130 654h4M1126 658h8M1126 662h4M1134 662h8M1122 666h4M1138 666h8M1122 670h4M1142 670h20M1154 674h16M1118 678h4M1166 678h12M1110 682h8M1178 682h12M1102 686h12M1186 686h4M1094 690h8M1086 694h8M1082 698h8M1074 702h8M1066 706h8M1062 710h4M1054 714h8M1050 718h4M1038 722h12M1030 726h8M170 730h8M846 730h60M1022 730h8M178 734h12M826 734h16M910 734h8M1010 734h8M190 738h8M814 738h8M926 738h4M994 738h12M198 742h4M806 742h4M934 742h4M978 742h12M206 746h4M794 746h8M938 746h28M214 750h4M786 750h4M222 754h4M774 754h4M230 758h16M250 762h16M638 762h12M270 766h12M610 766h12M678 766h8M290 770h20M598 770h4M698 770h20M322 774h20M370 778h20M594 778h4M422 782h16"/>
<path stroke="rgb(104,104,104)" d="M334 206h20M606 206h148M418 210h12M582 210h8M426 214h12M570 214h12M426 218h12M570 218h12M426 222h12M566 222h12M426 226h12M566 226h12M426 230h12M566 230h12M426 234h12M566 234h12M426 238h12M566 238h12M422 242h12M570 242h12M418 246h8M578 246h8M414 250h8M586 250h8M410 254h8M594 254h4M402 258h12M602 258h8M354 262h52M610 262h60M170 266h76M338 266h60M670 266h36M942 266h68M246 270h100M706 270h124M926 270h12M1010 270h16M274 274h44M834 274h32M890 274h28M1026 274h64M1090 278h20M1110 282h8M1142 282h48M1118 286h8M1134 286h8M1126 290h8M370 526h4M214 530h4M374 534h4M222 542h4M218 546h4M378 546h4M226 558h4M382 558h4M226 570h4M174 602h4M174 606h4M174 610h4M1130 662h4M1126 666h12M1126 670h4M1134 670h8M1122 674h4M1138 674h16M1122 678h4M1146 678h20M1118 682h4M1166 682h12M1114 686h8M1174 686h12M1102 690h16M1182 690h8M1094 694h12M1090 698h8M1082 702h8M1074 706h8M1066 710h4M1062 714h4M1054 718h4M1050 722h4M1038 726h8M1030 730h8M170 734h8M842 734h16M902 734h8M1018 734h8M182 738h8M822 738h12M918 738h8M1006 738h12M194 742h4M810 742h8M930 742h4M990 742h12M202 746h4M802 746h4M966 746h20M210 750h4M790 750h4M942 750h4M214 754h8M778 754h4M222 758h8M766 758h4M238 762h12M254 766h16M622 766h16M642 766h36M278 770h12M602 770h8M690 770h8M302 774h20M726 774h36M346 778h24M398 782h24"/>
<path stroke="rgb(107,107,107)" d="M254 206h80M754 206h84M402 210h16M590 210h8M418 214h8M582 214h8M418 218h8M582 218h8M418 222h8M578 222h8M418 226h8M578 226h8M418 230h8M578 230h8M418 234h8M578 234h8M418 238h8M578 238h8M414 242h8M582 242h4M410 246h8M586 246h8M402 250h12M594 250h4M358 254h52M598 254h8M342 258h60M610 258h56M170 262h76M330 262h24M670 262h36M942 262h68M246 266h92M706 266h124M930 266h12M1010 266h16M830 270h28M906 270h20M1026 270h64M866 274h24M1090 274h16M1110 278h8M1146 278h44M1118 282h8M1134 282h8M1126 286h8M214 518h4M214 526h4M218 530h4M370 530h4M370 534h4M370 538h4M222 546h4M374 554h4M222 558h4M226 562h4M226 566h4M386 574h4M382 578h4M386 586h4M1130 670h4M1126 674h12M1126 678h4M1134 678h12M1122 682h4M1146 682h20M1162 686h12M1118 690h4M1174 690h8M1106 694h12M1182 694h8M1098 698h8M1090 702h8M1082 706h8M1070 710h8M1066 714h4M1058 718h8M1054 722h4M1046 726h8M1038 730h8M858 734h44M1026 734h8M170 738h12M834 738h16M910 738h8M1018 738h8M186 742h8M818 742h8M926 742h4M1002 742h12M194 746h8M806 746h8M934 746h4M986 746h12M202 750h8M794 750h4M938 750h4M946 750h24M210 754h4M782 754h4M218 758h4M770 758h4M226 762h12M762 762h4M246 766h8M638 766h4M266 770h12M610 770h12M678 770h12M290 774h12M706 774h20M330 778h16M378 782h20M594 782h4"/>
<path stroke="rgb(111,111,111)" d="M170 206h84M838 206h32M918 206h88M350 210h52M598 210h12M402 214h16M590 214h8M406 218h12M590 218h4M406 222h12M586 222h8M406 226h12M586 226h8M406 230h12M586 230h8M406 234h12M586 234h4M406 238h12M586 238h4M398 242h16M586 242h8M358 246h52M594 246h4M346 250h56M598 250h8M338 254h20M606 254h56M170 258h80M326 258h16M666 258h36M946 258h60M246 262h84M706 262h128M930 262h12M1010 262h12M830 266h28M914 266h16M1026 266h60M858 270h48M1090 270h16M1106 274h12M1146 274h44M1118 278h8M1134 278h12M1126 282h8M214 522h4M218 534h4M218 538h4M374 538h4M218 542h4M222 550h4M374 550h4M222 554h4M382 562h4M378 566h4M386 578h4M386 582h4M1130 678h4M1126 682h4M1134 682h12M1122 686h4M1146 686h16M1162 690h12M1118 694h4M1174 694h8M1106 698h12M1182 698h8M1098 702h8M1090 706h8M1078 710h8M1070 714h8M1066 718h4M1058 722h4M1054 726h4M1046 730h4M1034 734h8M850 738h16M894 738h16M1026 738h4M170 742h16M826 742h12M918 742h8M1014 742h8M186 746h8M814 746h8M998 746h8M198 750h4M798 750h8M970 750h20M206 754h4M786 754h4M942 754h4M214 758h4M222 762h4M238 766h8M258 770h8M622 770h12M658 770h20M286 774h4M598 774h8M694 774h12M322 778h8M366 782h12"/>
<path stroke="rgb(115,115,115)" d="M870 206h48M1006 206h16M338 210h12M610 210h136M350 214h52M598 214h8M354 218h52M594 218h8M354 222h52M594 222h8M354 226h52M594 226h8M354 230h52M594 230h4M354 234h52M590 234h8M350 238h56M590 238h8M346 242h52M594 242h8M342 246h16M598 246h8M330 250h16M606 250h40M170 254h84M314 254h24M662 254h36M950 254h52M250 258h76M702 258h136M930 258h16M1006 258h16M834 262h24M914 262h16M1022 262h56M858 266h56M1086 266h16M1106 270h12M1154 270h36M1118 274h8M1134 274h12M1126 278h8M374 542h4M374 546h4M378 550h4M378 562h4M382 574h4M1130 682h4M1126 686h4M1134 686h12M1122 690h4M1146 690h16M1166 694h8M1118 698h4M1174 698h8M1106 702h12M1182 702h8M1098 706h8M1086 710h8M1078 714h8M1070 718h4M1062 722h4M1058 726h4M1050 730h4M1042 734h4M866 738h28M1030 738h8M838 742h12M910 742h8M1022 742h4M170 746h16M822 746h4M926 746h8M1006 746h8M186 750h12M806 750h8M934 750h4M990 750h8M198 754h8M790 754h4M938 754h4M946 754h24M206 758h8M774 758h8M218 762h4M230 766h8M250 770h8M634 770h24M278 774h8M606 774h8M686 774h8M314 778h8M722 778h40M354 782h12"/>
<path stroke="rgb(118,118,118)" d="M1022 206h64M322 210h16M746 210h36M338 214h12M606 214h132M342 218h12M602 218h16M342 222h12M602 222h12M342 226h12M602 226h8M342 230h12M598 230h8M338 234h16M598 234h8M338 238h12M598 238h8M334 242h12M602 242h8M326 246h16M606 246h24M170 250h160M646 250h48M954 250h44M254 254h60M698 254h144M930 254h20M1002 254h16M838 258h24M914 258h16M1022 258h20M858 262h56M1078 262h24M1102 266h12M1118 270h8M1138 270h16M1126 274h8M378 554h4M378 558h4M382 566h4M382 570h4M1130 686h4M1138 690h8M1122 694h4M1150 694h16M1166 698h8M1118 702h4M1174 702h8M1106 706h12M1186 706h4M1094 710h8M1086 714h8M1074 718h12M1066 722h8M1062 726h4M1054 730h8M1046 734h8M1038 738h8M850 742h16M878 742h4M894 742h16M1026 742h8M826 746h12M922 746h4M1014 746h8M170 750h16M814 750h8M998 750h8M190 754h8M794 754h8M970 754h20M202 758h4M782 758h8M210 762h8M766 762h4M222 766h8M242 770h8M270 774h8M614 774h12M674 774h12M306 778h8M702 778h20M346 782h8"/>
<path stroke="rgb(122,122,122)" d="M1086 206h36M242 210h80M782 210h64M326 214h12M738 214h36M330 218h12M618 218h148M330 222h12M614 222h144M330 226h12M610 226h84M330 230h12M606 230h64M326 234h12M606 234h20M322 238h16M606 238h16M314 242h20M610 242h56M234 246h92M630 246h68M766 246h56M962 246h24M694 250h152M930 250h24M998 250h16M842 254h28M910 254h20M1018 254h16M862 258h52M1042 258h56M1102 262h12M1114 266h12M1138 266h52M1126 270h12M1126 690h12M1138 694h12M1122 698h4M1154 698h12M1166 702h8M1118 706h4M1174 706h12M1102 710h16M1186 710h4M1094 714h8M1086 718h4M1074 722h8M1066 726h8M1062 730h4M1054 734h4M1046 738h8M866 742h12M882 742h12M1034 742h4M838 746h16M910 746h12M1022 746h8M822 750h8M926 750h8M1006 750h12M170 754h20M802 754h12M990 754h8M190 758h12M942 758h16M966 758h4M202 762h8M770 762h4M218 766h4M762 766h4M234 770h8M258 774h12M626 774h48M298 778h8M598 778h4M690 778h12M338 782h8M734 782h24"/>
<path stroke="rgb(126,126,126)" d="M1122 206h68M170 210h72M846 210h16M930 210h72M258 214h68M774 214h64M270 218h60M766 218h68M270 222h60M758 222h76M266 226h64M694 226h136M262 230h68M670 230h160M258 234h68M626 234h200M250 238h72M622 238h92M738 238h92M170 242h144M666 242h172M954 242h40M170 246h64M698 246h68M822 246h28M930 246h32M986 246h28M846 250h84M1014 250h16M870 254h40M1034 254h60M1098 258h12M1114 262h12M1138 262h52M1126 266h12M1126 694h12M1138 698h16M1122 702h4M1158 702h8M1170 706h4M1118 710h4M1178 710h8M1102 714h12M1090 718h8M1082 722h4M1074 726h4M1066 730h4M1058 734h8M1054 738h4M1038 742h12M854 746h12M878 746h4M894 746h8M906 746h4M1030 746h4M830 750h8M922 750h4M1018 750h4M814 754h8M934 754h4M998 754h8M170 758h20M790 758h8M938 758h4M958 758h8M970 758h20M194 762h8M774 762h4M206 766h12M222 770h12M250 774h8M290 778h8M602 778h12M682 778h8M326 782h12M710 782h24M758 782h4"/>
<path stroke="rgb(129,129,129)" d="M862 210h68M1002 210h16M170 214h88M838 214h16M942 214h56M170 218h100M834 218h16M954 218h36M170 222h100M834 222h16M950 222h44M170 226h96M830 226h20M946 226h48M170 230h92M830 230h20M942 230h56M170 234h88M826 234h24M942 234h60M170 238h80M714 238h24M830 238h20M938 238h68M838 242h20M926 242h28M994 242h20M850 246h80M1014 246h12M1030 250h60M1094 254h16M1110 258h12M1142 258h48M1126 262h12M1126 698h12M1138 702h20M1158 706h12M1170 710h8M1114 714h4M1178 714h12M1098 718h12M1086 722h12M1078 726h8M1070 730h4M1066 734h4M1058 738h4M1050 742h4M866 746h12M882 746h12M902 746h4M1034 746h8M838 750h16M910 750h4M918 750h4M1022 750h8M822 754h12M930 754h4M1006 754h12M798 758h8M990 758h12M170 762h24M778 762h12M942 762h16M966 762h4M198 766h8M766 766h4M218 770h4M238 774h12M278 778h12M614 778h20M654 778h28M322 782h4M694 782h16"/>
<path stroke="rgb(133,133,133)" d="M1018 210h8M854 214h88M998 214h12M850 218h104M990 218h20M850 222h100M994 222h16M850 226h96M994 226h20M850 230h92M998 230h16M850 234h92M1002 234h12M850 238h88M1006 238h12M858 242h68M1014 242h12M1026 246h56M1090 250h16M1110 254h12M1142 254h48M1122 258h20M1126 702h12M1122 706h4M1142 706h16M1158 710h12M1118 714h4M1174 714h4M1110 718h8M1178 718h12M1098 722h12M1086 726h12M1074 730h12M1070 734h4M1062 738h4M1054 742h8M1042 746h12M854 750h12M878 750h4M894 750h8M914 750h4M1030 750h8M834 754h4M846 754h4M922 754h8M1018 754h8M806 758h16M934 758h4M1002 758h4M1010 758h4M938 762h4M958 762h8M970 762h4M978 762h12M178 766h20M202 770h16M230 774h8M270 778h8M634 778h20M310 782h12M598 782h8M682 782h12"/>
<path stroke="rgb(137,137,137)" d="M1026 210h52M1010 214h12M1010 218h8M1010 222h12M1014 226h8M1014 230h12M1014 234h12M1018 238h12M1026 242h56M1082 246h24M1106 250h16M1146 250h44M1122 254h20M1126 706h16M1122 710h4M1142 710h16M1158 714h16M1118 718h4M1174 718h4M1110 722h8M1182 722h8M1098 726h4M1086 730h4M1074 734h12M1066 738h8M1062 742h4M866 750h12M882 750h12M902 750h8M1038 750h8M1050 750h4M838 754h8M850 754h4M910 754h4M918 754h4M1026 754h4M822 758h4M930 758h4M1006 758h4M1014 758h4M790 762h12M974 762h4M170 766h4M770 766h4M942 766h4M950 766h4M262 778h8M306 782h4M606 782h8M674 782h8"/>
<path stroke="rgb(140,140,140)" d="M1078 210h28M1022 214h8M1018 218h12M1022 222h12M1022 226h16M1026 230h16M1026 234h56M1030 238h64M1082 242h24M1106 246h12M1154 246h36M1122 250h24M1126 710h16M1122 714h4M1138 714h20M1158 718h16M1118 722h4M1174 722h8M1102 726h16M1186 726h4M1090 730h12M1054 746h8M1046 750h4M854 754h12M878 754h4M894 754h8M914 754h4M1030 754h4M826 758h12M846 758h4M926 758h4M802 762h4M810 762h8M934 762h4M994 762h4M786 766h4M946 766h4M966 766h4M762 770h4M226 774h4M258 778h4M302 782h4M614 782h16M654 782h20"/>
<path stroke="rgb(144,144,144)" d="M1106 210h84M1030 214h60M1030 218h56M1034 222h56M1038 226h60M1042 230h60M1082 234h24M1094 238h16M1106 242h16M1150 242h40M1118 246h36M1126 714h12M1122 718h4M1134 718h24M1162 722h12M1118 726h4M1174 726h12M1102 730h16M1086 734h12M1074 738h12M1066 742h8M1062 746h4M866 754h12M882 754h12M902 754h8M838 758h4M850 758h4M858 758h8M910 758h4M918 758h8M1018 758h4M806 762h4M818 762h4M990 762h4M998 762h4M174 766h4M778 766h4M954 766h4M766 770h4M222 774h4M254 778h4M298 782h4M630 782h24"/>
<path stroke="rgb(148,148,148)" d="M1090 214h20M1086 218h20M1090 222h20M1098 226h16M1102 230h16M1106 234h20M1142 234h48M1110 238h80M1122 242h28M1126 718h8M1122 722h4M1134 722h28M1162 726h12M1118 730h4M1174 730h16M1098 734h20M1086 738h12M1078 742h8M1034 754h4M1050 754h4M842 758h4M854 758h4M870 758h32M914 758h4M830 762h4M846 762h4M910 762h4M926 762h8M774 766h4M782 766h4M986 766h4M250 778h4M294 782h4"/>
<path stroke="rgb(151,151,151)" d="M1110 214h80M1106 218h84M1110 222h80M1114 226h76M1118 230h72M1126 234h16M1126 722h8M1122 726h4M1134 726h28M1166 730h8M1118 734h4M1182 734h8M1098 738h20M1074 742h4M1094 742h4M1066 746h8M1054 750h12M1042 754h4M866 758h4M902 758h8M1022 758h8M822 762h8M834 762h8M850 762h4M858 762h8M894 762h8M922 762h4M1010 762h4M934 766h8M970 766h4M982 766h4M186 770h4M198 770h4M246 778h4M290 782h4"/>
<path stroke="rgb(155,155,155)" d="M1126 726h4M1122 730h4M1134 730h32M1174 734h8M1118 738h4M1186 738h4M1086 742h8M1098 742h4M1106 742h12M1078 746h8M1070 750h4M1038 754h4M1046 754h4M842 762h4M854 762h4M870 762h24M914 762h8M794 766h4M814 766h4M846 766h4M862 766h4M910 766h4M926 766h8M958 766h8M978 766h4M190 770h8M950 770h4M206 774h4M218 774h4M286 782h4"/>
<path stroke="rgb(158,158,158)" d="M1130 726h4M1126 730h4M1122 734h4M1134 734h40M1174 738h12M1102 742h4M1118 742h4M1074 746h4M1090 746h12M1114 746h4M1066 750h4M1082 750h4M1058 754h4M1050 758h4M866 762h4M902 762h8M1002 762h4M1014 762h4M790 766h4M798 766h8M810 766h4M818 766h4M830 766h4M850 766h4M858 766h4M878 766h4M894 766h8M922 766h4M770 770h4M242 778h4M282 782h4"/>
<path stroke="rgb(162,162,162)" d="M1130 730h4M1138 738h12M1158 738h16M1182 742h8M1086 746h4M1102 746h12M1078 750h4M1094 750h4M1054 754h4M1062 754h4M1030 758h4M1006 762h4M806 766h4M834 766h8M854 766h4M870 766h8M882 766h12M918 766h4M994 766h4M786 770h4M846 770h4M910 770h4M942 770h4M966 770h4M762 774h4M274 782h8"/>
<path stroke="rgb(166,166,166)" d="M1122 738h4M1134 738h4M1150 738h8M1174 742h8M1118 746h4M1070 754h4M1034 758h4M822 766h8M842 766h4M902 766h4M914 766h4M974 766h4M998 766h4M182 770h4M850 770h4M858 770h8M930 770h8M946 770h4M210 774h4M766 774h4M238 778h4M270 782h4"/>
<path stroke="rgb(169,169,169)" d="M1126 734h4M1074 750h4M1114 750h4M1042 758h4M1018 762h4M866 766h4M906 766h4M990 766h4M778 770h4M898 770h4M926 770h4M954 770h4M986 770h4M258 782h12"/>
<path stroke="rgb(173,173,173)" d="M1130 734h4M1142 742h4M1090 750h4M1098 750h4M1066 754h4M1082 754h4M1038 758h4M1046 758h4M1026 762h4M1010 766h4M178 770h4M774 770h4M782 770h4M814 770h4M878 770h4M894 770h4M922 770h4M938 770h4M982 770h4M202 774h4M214 774h4M234 778h4M250 782h8"/>
<path stroke="rgb(177,177,177)" d="M1146 742h4M1086 750h4M1106 750h8M1078 754h4M1058 758h4M1022 762h4M1050 762h4M794 770h8M810 770h4M818 770h4M830 770h4M854 770h4M970 770h4M978 770h4M950 774h4M230 778h4M246 782h4"/>
<path stroke="rgb(180,180,180)" d="M1122 742h4M1138 742h4M1162 742h12M1182 746h8M1102 750h4M1054 758h4M1062 758h4M1002 766h4M1014 766h4M790 770h4M802 770h4M838 770h4M870 770h8M882 770h4M918 770h4M958 770h8M770 774h4M846 774h4M226 778h4"/>
<path stroke="rgb(184,184,184)" d="M1150 742h4M1158 742h4M1174 746h8M1118 750h4M1094 754h4M1030 762h4M1006 766h4M806 770h4M834 770h4M886 770h8M914 770h4M994 770h4M186 774h4M786 774h4M862 774h4M910 774h4M930 774h4M966 774h4M222 778h4M242 782h4"/>
<path stroke="rgb(188,188,188)" d="M1126 738h4M1134 742h4M1154 742h4M1070 758h4M1034 762h4M170 770h8M822 770h8M842 770h4M902 770h4M974 770h4M998 770h4M190 774h4M198 774h4M850 774h4M858 774h4M934 774h4M942 774h8M206 778h4M218 778h4M762 778h8M238 782h4"/>
<path stroke="rgb(191,191,191)" d="M1074 754h4M1114 754h4M1042 762h4M1018 766h4M866 770h4M906 770h4M990 770h4M194 774h4M778 774h4M898 774h4M926 774h4M954 774h4M986 774h4M234 782h4"/>
<path stroke="rgb(195,195,195)" d="M1090 754h4M1066 758h4M1026 766h4M182 774h4M782 774h4M814 774h4M894 774h4M210 778h4M230 782h4"/>
<path stroke="rgb(199,199,199)" d="M1130 738h4M1142 746h4M1098 754h4M1082 758h4M1038 762h4M1046 762h4M1022 766h4M1010 770h4M774 774h4M878 774h4M922 774h4M938 774h4M982 774h4M202 778h4M226 782h4"/>
<path stroke="rgb(202,202,202)" d="M1146 746h4M1106 754h8M1058 762h4M810 774h4M818 774h4M970 774h4"/>
<path stroke="rgb(206,206,206)" d="M1186 750h4M1086 754h4M1078 758h4M1050 766h4M178 774h4M794 774h8M830 774h4M854 774h4M962 774h4M978 774h4M214 778h4M950 778h4"/>
<path stroke="rgb(209,209,209)" d="M1138 746h4M1170 746h4M1062 762h4M1014 770h4M790 774h4M802 774h4M838 774h4M870 774h8M918 774h4M958 774h4M770 778h4M222 782h4"/>
<path stroke="rgb(213,213,213)" d="M1122 746h4M1162 746h8M1182 750h4M1102 754h4M1118 754h4M1054 762h4M882 774h4M846 778h4M206 782h4M762 782h4"/>
<path stroke="rgb(217,217,217)" d="M1158 746h4M1094 758h4M1002 770h8M834 774h4M886 774h4M786 778h4"/>
<path stroke="rgb(220,220,220)" d="M1178 750h4M1030 766h4M806 774h4M890 774h4M994 774h4M862 778h4M910 778h4M930 778h4M966 778h4M218 782h4M766 782h4"/>
<path stroke="rgb(224,224,224)" d="M1134 746h4M1150 746h4M1174 750h4M842 774h4M914 774h4M186 778h4M858 778h4M942 778h4"/>
<path stroke="rgb(228,228,228)" d="M1126 742h4M1154 746h4M1070 762h4M1034 766h4M170 774h4M822 774h8M974 774h4M998 774h4M850 778h4M934 778h4"/>
<path stroke="rgb(231,231,231)" d="M1114 758h4M174 774h4M902 774h8M190 778h4M198 778h4M778 778h4M946 778h4"/>
<path stroke="rgb(235,235,235)" d="M1074 758h4M1042 766h4M1018 770h4M866 774h4M990 774h4M194 778h4M926 778h4M954 778h4M986 778h4M210 782h4"/>
<path stroke="rgb(239,239,239)" d="M1090 758h4M1066 762h4M1026 770h4M182 778h4M782 778h4M814 778h4M894 778h8"/>
<path stroke="rgb(242,242,242)" d="M1130 742h4M1122 750h4M1142 750h8M1098 758h4M1106 758h4M1118 758h4M1082 762h4M1038 766h4M1046 766h4M1058 766h4M1022 770h4M1010 774h4M774 778h4M818 778h4M878 778h4M922 778h4M938 778h4M982 778h4M202 782h4"/>
<path stroke="rgb(246,246,246)" d="M1126 746h8M1126 750h16M1150 750h24M1122 754h68M1086 758h4M1102 758h4M1110 758h4M1122 758h68M1074 762h8M1086 762h104M1054 766h4M1062 766h128M1030 770h160M1002 774h8M1014 774h176M170 778h12M790 778h24M822 778h24M854 778h4M866 778h12M882 778h12M902 778h8M914 778h8M958 778h8M970 778h12M990 778h200M170 782h32M214 782h4M770 782h420"/>
<rect x="640" y="747" width="20" height="2" fill="rgb(191,191,191)" stroke="none"/>
<rect x="650" y="749" width="8" height="3" fill="rgb(140,140,140)" stroke="none"/>
<rect x="198" y="663" width="40" height="2" fill="rgb(91,91,91)" stroke="none"/>
<rect x="1134" y="689" width="30" height="2" fill="rgb(144,144,144)" stroke="none"/>
</g>
<rect x="168" y="198.5" width="1020" height="584.7" fill="none" stroke="#000" stroke-width="3.6"/>
<line x1="168" x2="168" y1="783.2" y2="794.7" stroke="#000" stroke-width="3.6"/>
<line x1="168" x2="168" y1="198.5" y2="186.2" stroke="#000" stroke-width="3.6"/>
<line x1="253" x2="253" y1="783.2" y2="788.7" stroke="#000" stroke-width="3.6"/>
<line x1="253" x2="253" y1="198.5" y2="192.2" stroke="#000" stroke-width="3.6"/>
<line x1="338" x2="338" y1="783.2" y2="788.7" stroke="#000" stroke-width="3.6"/>
<line x1="338" x2="338" y1="198.5" y2="192.2" stroke="#000" stroke-width="3.6"/>
<line x1="423" x2="423" y1="783.2" y2="794.7" stroke="#000" stroke-width="3.6"/>
<line x1="423" x2="423" y1="198.5" y2="186.2" stroke="#000" stroke-width="3.6"/>
<line x1="508" x2="508" y1="783.2" y2="788.7" stroke="#000" stroke-width="3.6"/>
<line x1="508" x2="508" y1="198.5" y2="192.2" stroke="#000" stroke-width="3.6"/>
<line x1="593" x2="593" y1="783.2" y2="788.7" stroke="#000" stroke-width="3.6"/>
<line x1="593" x2="593" y1="198.5" y2="192.2" stroke="#000" stroke-width="3.6"/>
<line x1="678" x2="678" y1="783.2" y2="794.7" stroke="#000" stroke-width="3.6"/>
<line x1="678" x2="678" y1="198.5" y2="186.2" stroke="#000" stroke-width="3.6"/>
<line x1="763" x2="763" y1="783.2" y2="788.7" stroke="#000" stroke-width="3.6"/>
<line x1="763" x2="763" y1="198.5" y2="192.2" stroke="#000" stroke-width="3.6"/>
<line x1="848" x2="848" y1="783.2" y2="788.7" stroke="#000" stroke-width="3.6"/>
<line x1="848" x2="848" y1="198.5" y2="192.2" stroke="#000" stroke-width="3.6"/>
<line x1="933" x2="933" y1="783.2" y2="794.7" stroke="#000" stroke-width="3.6"/>
<line x1="933" x2="933" y1="198.5" y2="186.2" stroke="#000" stroke-width="3.6"/>
<line x1="1018" x2="1018" y1="783.2" y2="788.7" stroke="#000" stroke-width="3.6"/>
<line x1="1018" x2="1018" y1="198.5" y2="192.2" stroke="#000" stroke-width="3.6"/>
<line x1="1103" x2="1103" y1="783.2" y2="788.7" stroke="#000" stroke-width="3.6"/>
<line x1="1103" x2="1103" y1="198.5" y2="192.2" stroke="#000" stroke-width="3.6"/>
<line x1="1188" x2="1188" y1="783.2" y2="794.7" stroke="#000" stroke-width="3.6"/>
<line x1="1188" x2="1188" y1="198.5" y2="186.2" stroke="#000" stroke-width="3.6"/>
<line x1="168" x2="148" y1="198.5" y2="198.5" stroke="#000" stroke-width="3.3"/>
<line x1="1188" x2="1209" y1="198.5" y2="198.5" stroke="#000" stroke-width="3.3"/>
<line x1="168" x2="148" y1="282.02857142857147" y2="282.02857142857147" stroke="#000" stroke-width="3.3"/>
<line x1="1188" x2="1209" y1="282.02857142857147" y2="282.02857142857147" stroke="#000" stroke-width="3.3"/>
<line x1="168" x2="148" y1="365.5571428571429" y2="365.5571428571429" stroke="#000" stroke-width="3.3"/>
<line x1="1188" x2="1209" y1="365.5571428571429" y2="365.5571428571429" stroke="#000" stroke-width="3.3"/>
<line x1="168" x2="148" y1="449.0857142857143" y2="449.0857142857143" stroke="#000" stroke-width="3.3"/>
<line x1="1188" x2="1209" y1="449.0857142857143" y2="449.0857142857143" stroke="#000" stroke-width="3.3"/>
<line x1="168" x2="148" y1="532.6142857142858" y2="532.6142857142858" stroke="#000" stroke-width="3.3"/>
<line x1="1188" x2="1209" y1="532.6142857142858" y2="532.6142857142858" stroke="#000" stroke-width="3.3"/>
<line x1="168" x2="148" y1="616.1428571428572" y2="616.1428571428572" stroke="#000" stroke-width="3.3"/>
<line x1="1188" x2="1209" y1="616.1428571428572" y2="616.1428571428572" stroke="#000" stroke-width="3.3"/>
<line x1="168" x2="148" y1="699.6714285714286" y2="699.6714285714286" stroke="#000" stroke-width="3.3"/>
<line x1="1188" x2="1209" y1="699.6714285714286" y2="699.6714285714286" stroke="#000" stroke-width="3.3"/>
<line x1="168" x2="148" y1="783.2" y2="783.2" stroke="#000" stroke-width="3.3"/>
<line x1="1188" x2="1209" y1="783.2" y2="783.2" stroke="#000" stroke-width="3.3"/>
<text x="133.5" y="223.0" font-size="32" text-anchor="end"  style="">18.1</text>
<text x="1220" y="223.0" font-size="32" text-anchor="start"  style="">80.5</text>
<text x="133.5" y="296.02857142857147" font-size="32" text-anchor="end"  style="">40.8</text>
<text x="1220" y="296.02857142857147" font-size="32" text-anchor="start"  style="">78.0</text>
<text x="133.5" y="379.5571428571429" font-size="32" text-anchor="end"  style="">61.6</text>
<text x="1220" y="379.5571428571429" font-size="32" text-anchor="start"  style="">77.1</text>
<text x="133.5" y="463.0857142857143" font-size="32" text-anchor="end"  style="">80.7</text>
<text x="1220" y="463.0857142857143" font-size="32" text-anchor="start"  style="">76.6</text>
<text x="133.5" y="546.6142857142858" font-size="32" text-anchor="end"  style="">81.3</text>
<text x="1220" y="546.6142857142858" font-size="32" text-anchor="start"  style="">76.2</text>
<text x="133.5" y="630.1428571428572" font-size="32" text-anchor="end"  style="">62.2</text>
<text x="1220" y="630.1428571428572" font-size="32" text-anchor="start"  style="">75.7</text>
<text x="133.5" y="713.6714285714286" font-size="32" text-anchor="end"  style="">41.2</text>
<text x="1220" y="713.6714285714286" font-size="32" text-anchor="start"  style="">74.9</text>
<text x="133.5" y="782.7" font-size="32" text-anchor="end"  style="">18.0</text>
<text x="1220" y="782.7" font-size="32" text-anchor="start"  style="">72.4</text>
<text x="169" y="848.5" font-size="32" text-anchor="middle"  style="">16:00</text>
<text x="169" y="168" font-size="32" text-anchor="middle"  style="">18.5</text>
<text x="424" y="848.5" font-size="32" text-anchor="middle"  style="">16:15</text>
<text x="424" y="168" font-size="32" text-anchor="middle"  style="">18.7</text>
<text x="679" y="848.5" font-size="32" text-anchor="middle"  style="">16:30</text>
<text x="679" y="168" font-size="32" text-anchor="middle"  style="">18.9</text>
<text x="934" y="848.5" font-size="32" text-anchor="middle"  style="">16:45</text>
<text x="934" y="168" font-size="32" text-anchor="middle"  style="">19.2</text>
<text x="1189" y="848.5" font-size="32" text-anchor="middle"  style="">17:00</text>
<text x="1189" y="168" font-size="32" text-anchor="middle"  style="">19.4</text>
<text x="678" y="131.5" font-size="32" text-anchor="middle"  style="">MLT</text>
<text x="679" y="894.5" font-size="32" text-anchor="middle"  style="">Time UT</text>
<text transform="translate(183.5,89.6) scale(1,1.06)" font-size="46" class="it">NYA6 5577 Å</text>
<text x="183.5" y="119.6" font-size="31.4" text-anchor="start" class="it" style="">2016-02-07 16:00-17:00 UT</text>
<text transform="translate(39,490) rotate(-90)" font-size="32" text-anchor="middle">Elevation</text>
<text transform="translate(1323,490) rotate(-90)" font-size="32" text-anchor="middle">MLAT</text>
<text transform="translate(1505,490) rotate(-90)" font-size="32" text-anchor="middle">Brightness [kR]</text>
<defs><linearGradient id="cbg" x1="0" y1="0" x2="0" y2="1"><stop offset="0.0000" stop-color="rgb(175,0,0)"/><stop offset="0.0625" stop-color="rgb(225,0,0)"/><stop offset="0.1250" stop-color="rgb(255,20,0)"/><stop offset="0.1875" stop-color="rgb(255,100,0)"/><stop offset="0.2500" stop-color="rgb(255,175,0)"/><stop offset="0.3125" stop-color="rgb(255,235,0)"/><stop offset="0.3750" stop-color="rgb(210,255,0)"/><stop offset="0.4375" stop-color="rgb(110,255,0)"/><stop offset="0.5000" stop-color="rgb(0,255,50)"/><stop offset="0.5625" stop-color="rgb(0,255,160)"/><stop offset="0.6250" stop-color="rgb(0,245,255)"/><stop offset="0.6875" stop-color="rgb(0,140,255)"/><stop offset="0.7500" stop-color="rgb(0,40,255)"/><stop offset="0.8000" stop-color="rgb(10,0,250)"/><stop offset="0.8400" stop-color="rgb(65,0,200)"/><stop offset="0.8750" stop-color="rgb(85,0,135)"/><stop offset="0.9375" stop-color="rgb(60,0,80)"/><stop offset="0.9600" stop-color="rgb(35,0,40)"/><stop offset="1.0000" stop-color="rgb(15,0,15)"/></linearGradient></defs>
<rect x="1364" y="226" width="28" height="529" fill="#000"/>
<rect x="1367.8" y="229" width="20.4" height="522.5" fill="url(#cbg)"/>
<rect x="1364" y="686.65" width="28" height="3.2" fill="#000"/>
<rect x="1364" y="620.80" width="28" height="3.2" fill="#000"/>
<rect x="1364" y="554.95" width="28" height="3.2" fill="#000"/>
<rect x="1364" y="489.10" width="28" height="3.2" fill="#000"/>
<rect x="1364" y="423.25" width="28" height="3.2" fill="#000"/>
<rect x="1364" y="357.40" width="28" height="3.2" fill="#000"/>
<rect x="1364" y="291.55" width="28" height="3.2" fill="#000"/>
<text x="1402" y="702.25" font-size="32" text-anchor="start"  style="">0.62</text>
<text x="1402" y="636.4" font-size="32" text-anchor="start"  style="">0.69</text>
<text x="1402" y="570.55" font-size="32" text-anchor="start"  style="">0.76</text>
<text x="1402" y="504.7" font-size="32" text-anchor="start"  style="">0.85</text>
<text x="1402" y="438.85" font-size="32" text-anchor="start"  style="">0.94</text>
<text x="1402" y="373.0" font-size="32" text-anchor="start"  style="">1.04</text>
<text x="1402" y="307.15" font-size="32" text-anchor="start"  style="">1.15</text>
</svg></body></html>
